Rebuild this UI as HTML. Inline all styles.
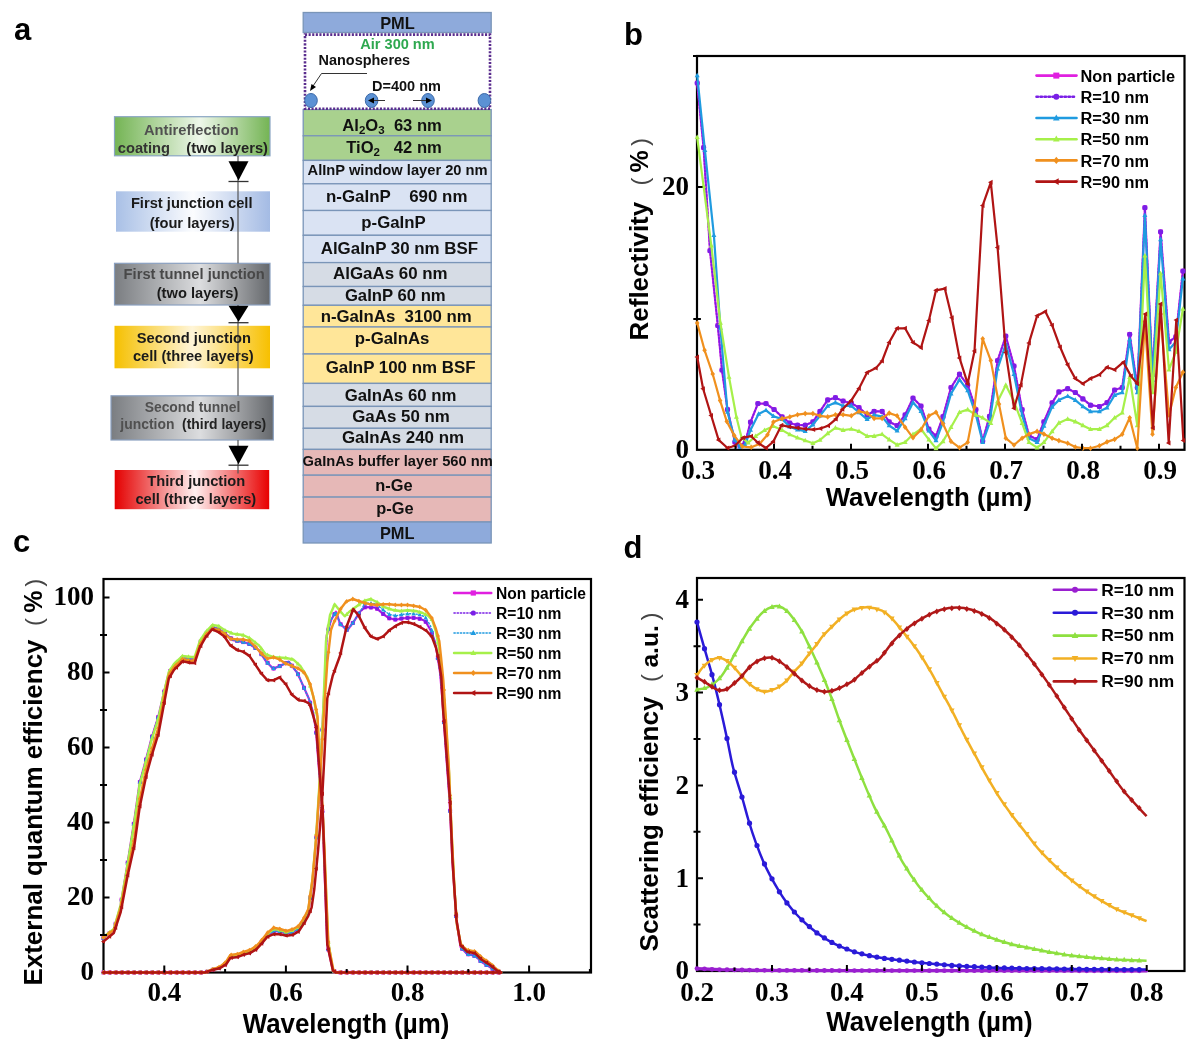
<!DOCTYPE html>
<html><head><meta charset="utf-8"><style>
html,body{margin:0;padding:0;background:#fff;}
svg{display:block;filter:blur(0.35px);}
text{white-space:pre;}
</style></head><body>
<svg width="1200" height="1047" viewBox="0 0 1200 1047">
<rect x="0" y="0" width="1200" height="1047" fill="#fff"/>
<text x="14" y="40" font-size="31" text-anchor="start" font-weight="bold" style='font-family:"Liberation Sans", sans-serif' fill="#000" >a</text>
<defs>
<linearGradient id="gGreen" x1="0" x2="1" y1="0" y2="0">
 <stop offset="0" stop-color="#74b454"/><stop offset="0.55" stop-color="#eef7ea"/><stop offset="1" stop-color="#74b454"/></linearGradient>
<linearGradient id="gBlue" x1="0" x2="1" y1="0" y2="0">
 <stop offset="0" stop-color="#a9c0e6"/><stop offset="0.5" stop-color="#fbfcfe"/><stop offset="1" stop-color="#a4bbe4"/></linearGradient>
<linearGradient id="gGray" x1="0" x2="1" y1="0" y2="0">
 <stop offset="0" stop-color="#7a7d81"/><stop offset="0.55" stop-color="#dcdddf"/><stop offset="1" stop-color="#65686c"/></linearGradient>
<linearGradient id="gYel" x1="0" x2="1" y1="0" y2="0">
 <stop offset="0" stop-color="#f5c000"/><stop offset="0.5" stop-color="#fff5d8"/><stop offset="1" stop-color="#f7c000"/></linearGradient>
<linearGradient id="gRed" x1="0" x2="1" y1="0" y2="0">
 <stop offset="0" stop-color="#e40000"/><stop offset="0.52" stop-color="#fff0f0"/><stop offset="1" stop-color="#e80000"/></linearGradient>
</defs>
<rect x="114.5" y="116.7" width="155.5" height="39.10000000000001" fill="url(#gGreen)" stroke="#8aa6c4" stroke-width="1.2"/>
<rect x="116" y="191.3" width="154" height="40.39999999999998" fill="url(#gBlue)"/>
<rect x="114.5" y="263.3" width="155.5" height="41.69999999999999" fill="url(#gGray)" stroke="#8aa0c0" stroke-width="1.2"/>
<rect x="114.5" y="325.8" width="155.5" height="42.5" fill="url(#gYel)"/>
<rect x="111" y="395.8" width="162.3" height="44.19999999999999" fill="url(#gGray)" stroke="#8aa0c0" stroke-width="1.2"/>
<rect x="114.7" y="470" width="154.5" height="39.19999999999999" fill="url(#gRed)"/>
<line x1="238" y1="156" x2="238" y2="263.3" stroke="#555" stroke-width="1.2"/>
<line x1="238" y1="305" x2="238" y2="395.8" stroke="#555" stroke-width="1.2"/>
<line x1="238" y1="440" x2="238" y2="473.6" stroke="#555" stroke-width="1.2"/>
<text x="191.3" y="135" font-size="14.7" text-anchor="middle" font-weight="bold" style='font-family:"Liberation Sans", sans-serif' fill="#505050" >Antireflection</text>
<text x="192.9" y="152.5" font-size="14.7" text-anchor="middle" font-weight="bold" style='font-family:"Liberation Sans", sans-serif' fill="#222" ><tspan fill="#333">coating    </tspan>(two layers)</text>
<text x="191.7" y="208.3" font-size="14.7" text-anchor="middle" font-weight="bold" style='font-family:"Liberation Sans", sans-serif' fill="#1a1a1a" >First junction cell</text>
<text x="192.1" y="227.5" font-size="14.7" text-anchor="middle" font-weight="bold" style='font-family:"Liberation Sans", sans-serif' fill="#1a1a1a" >(four layers)</text>
<text x="194.2" y="278.7" font-size="14.7" text-anchor="middle" font-weight="bold" style='font-family:"Liberation Sans", sans-serif' fill="#484848" >First tunnel junction</text>
<text x="197.5" y="297.5" font-size="14.7" text-anchor="middle" font-weight="bold" style='font-family:"Liberation Sans", sans-serif' fill="#1a1a1a" >(two layers)</text>
<text x="193.8" y="343.3" font-size="14.7" text-anchor="middle" font-weight="bold" style='font-family:"Liberation Sans", sans-serif' fill="#1a1a1a" >Second junction</text>
<text x="193.3" y="360.8" font-size="14.7" text-anchor="middle" font-weight="bold" style='font-family:"Liberation Sans", sans-serif' fill="#1a1a1a" >cell (three layers)</text>
<text x="192.5" y="411.7" font-size="13.9" text-anchor="middle" font-weight="bold" style='font-family:"Liberation Sans", sans-serif' fill="#505050" >Second tunnel</text>
<text x="193.3" y="429.2" font-size="13.9" text-anchor="middle" font-weight="bold" style='font-family:"Liberation Sans", sans-serif' fill="#222" ><tspan fill="#505050">junction  </tspan>(third layers)</text>
<text x="196.3" y="485.8" font-size="14.7" text-anchor="middle" font-weight="bold" style='font-family:"Liberation Sans", sans-serif' fill="#1a1a1a" >Third junction</text>
<text x="195.8" y="504.2" font-size="14.7" text-anchor="middle" font-weight="bold" style='font-family:"Liberation Sans", sans-serif' fill="#1a1a1a" >cell (three layers)</text>
<polygon points="228.5,161.3 248.5,161.3 238.5,180.5" fill="#000"/>
<line x1="228.5" y1="181.5" x2="248.5" y2="181.5" stroke="#333" stroke-width="1.3"/>
<polygon points="228.5,305.8 248.5,305.8 238.5,321.7" fill="#000"/>
<line x1="228.5" y1="322.7" x2="248.5" y2="322.7" stroke="#333" stroke-width="1.3"/>
<polygon points="228.5,445.8 248.5,445.8 238.5,464.2" fill="#000"/>
<line x1="228.5" y1="465.2" x2="248.5" y2="465.2" stroke="#333" stroke-width="1.3"/>
<rect x="303.2" y="12.5" width="188.0" height="20.0" fill="#8eaadb" stroke="#7a95b8" stroke-width="1.3"/>
<rect x="303.2" y="109.5" width="188.0" height="26.30000000000001" fill="#a9d18e" stroke="#7a95b8" stroke-width="1.3"/>
<rect x="303.2" y="135.8" width="188.0" height="24.599999999999994" fill="#a9d18e" stroke="#7a95b8" stroke-width="1.3"/>
<rect x="303.2" y="160.4" width="188.0" height="23.400000000000006" fill="#dae3f3" stroke="#7a95b8" stroke-width="1.3"/>
<rect x="303.2" y="183.8" width="188.0" height="26.69999999999999" fill="#dae3f3" stroke="#7a95b8" stroke-width="1.3"/>
<rect x="303.2" y="210.5" width="188.0" height="24.80000000000001" fill="#dae3f3" stroke="#7a95b8" stroke-width="1.3"/>
<rect x="303.2" y="235.3" width="188.0" height="27.30000000000001" fill="#dae3f3" stroke="#7a95b8" stroke-width="1.3"/>
<rect x="303.2" y="262.6" width="188.0" height="23.899999999999977" fill="#d6dce5" stroke="#7a95b8" stroke-width="1.3"/>
<rect x="303.2" y="286.5" width="188.0" height="18.80000000000001" fill="#d6dce5" stroke="#7a95b8" stroke-width="1.3"/>
<rect x="303.2" y="305.3" width="188.0" height="21.69999999999999" fill="#ffe699" stroke="#7a95b8" stroke-width="1.3"/>
<rect x="303.2" y="327" width="188.0" height="27" fill="#ffe699" stroke="#7a95b8" stroke-width="1.3"/>
<rect x="303.2" y="354" width="188.0" height="29.399999999999977" fill="#ffe699" stroke="#7a95b8" stroke-width="1.3"/>
<rect x="303.2" y="383.4" width="188.0" height="23.0" fill="#d6dce5" stroke="#7a95b8" stroke-width="1.3"/>
<rect x="303.2" y="406.4" width="188.0" height="21.900000000000034" fill="#d6dce5" stroke="#7a95b8" stroke-width="1.3"/>
<rect x="303.2" y="428.3" width="188.0" height="21.099999999999966" fill="#d6dce5" stroke="#7a95b8" stroke-width="1.3"/>
<rect x="303.2" y="449.4" width="188.0" height="25.80000000000001" fill="#e6b8b7" stroke="#7a95b8" stroke-width="1.3"/>
<rect x="303.2" y="475.2" width="188.0" height="21.900000000000034" fill="#e6b8b7" stroke="#7a95b8" stroke-width="1.3"/>
<rect x="303.2" y="497.1" width="188.0" height="24.899999999999977" fill="#e6b8b7" stroke="#7a95b8" stroke-width="1.3"/>
<rect x="303.2" y="522" width="188.0" height="21" fill="#8eaadb" stroke="#7a95b8" stroke-width="1.3"/>
<text x="397.5" y="29" font-size="16.4" text-anchor="middle" font-weight="bold" style='font-family:"Liberation Sans", sans-serif' fill="#111" >PML</text>
<text x="397.6" y="175.3" font-size="14.7" text-anchor="middle" font-weight="bold" style='font-family:"Liberation Sans", sans-serif' fill="#111" >AlInP window layer 20 nm</text>
<text x="396.7" y="202.2" font-size="16.9" text-anchor="middle" font-weight="bold" style='font-family:"Liberation Sans", sans-serif' fill="#111" >n-GaInP    690 nm</text>
<text x="393.5" y="228.2" font-size="16.8" text-anchor="middle" font-weight="bold" style='font-family:"Liberation Sans", sans-serif' fill="#111" >p-GaInP</text>
<text x="399.4" y="253.6" font-size="16.9" text-anchor="middle" font-weight="bold" style='font-family:"Liberation Sans", sans-serif' fill="#111" >AlGaInP 30 nm BSF</text>
<text x="390.3" y="279" font-size="16.9" text-anchor="middle" font-weight="bold" style='font-family:"Liberation Sans", sans-serif' fill="#111" >AlGaAs 60 nm</text>
<text x="395.3" y="300.7" font-size="16.7" text-anchor="middle" font-weight="bold" style='font-family:"Liberation Sans", sans-serif' fill="#111" >GaInP 60 nm</text>
<text x="396.2" y="321.7" font-size="16.8" text-anchor="middle" font-weight="bold" style='font-family:"Liberation Sans", sans-serif' fill="#111" >n-GaInAs  3100 nm</text>
<text x="392.1" y="344.4" font-size="16.8" text-anchor="middle" font-weight="bold" style='font-family:"Liberation Sans", sans-serif' fill="#111" >p-GaInAs</text>
<text x="400.6" y="373" font-size="16.9" text-anchor="middle" font-weight="bold" style='font-family:"Liberation Sans", sans-serif' fill="#111" >GaInP 100 nm BSF</text>
<text x="400.6" y="400.6" font-size="16.8" text-anchor="middle" font-weight="bold" style='font-family:"Liberation Sans", sans-serif' fill="#111" >GaInAs 60 nm</text>
<text x="401" y="421.7" font-size="16.9" text-anchor="middle" font-weight="bold" style='font-family:"Liberation Sans", sans-serif' fill="#111" >GaAs 50 nm</text>
<text x="403" y="442.7" font-size="16.9" text-anchor="middle" font-weight="bold" style='font-family:"Liberation Sans", sans-serif' fill="#111" >GaInAs 240 nm</text>
<text x="397.7" y="465.6" font-size="14.7" text-anchor="middle" font-weight="bold" style='font-family:"Liberation Sans", sans-serif' fill="#111" >GaInAs buffer layer 560 nm</text>
<text x="393.9" y="490.5" font-size="16.4" text-anchor="middle" font-weight="bold" style='font-family:"Liberation Sans", sans-serif' fill="#111" >n-Ge</text>
<text x="394.9" y="514.3" font-size="16.4" text-anchor="middle" font-weight="bold" style='font-family:"Liberation Sans", sans-serif' fill="#111" >p-Ge</text>
<text x="397.2" y="539.2" font-size="16.4" text-anchor="middle" font-weight="bold" style='font-family:"Liberation Sans", sans-serif' fill="#111" >PML</text>
<text x="392.1" y="130.7" font-size="16.6" text-anchor="middle" font-weight="bold" font-family='"Liberation Sans", sans-serif' fill="#111">Al<tspan font-size="11.5" dy="3.5">2</tspan><tspan dy="-3.5">O</tspan><tspan font-size="11.5" dy="3.5">3</tspan><tspan dy="-3.5">  63 nm</tspan></text>
<text x="394" y="152.5" font-size="16.6" text-anchor="middle" font-weight="bold" font-family='"Liberation Sans", sans-serif' fill="#111">TiO<tspan font-size="11.5" dy="3.5">2</tspan><tspan dy="-3.5">   42 nm</tspan></text>
<rect x="305" y="34.6" width="185" height="74.2" fill="#fff" stroke="#5a2d8e" stroke-width="2.6" stroke-dasharray="2.1,1.5"/>
<text x="397.5" y="49.4" font-size="14.55" text-anchor="middle" font-weight="bold" style='font-family:"Liberation Sans", sans-serif' fill="#2ea84f" >Air 300 nm</text>
<text x="318.6" y="65" font-size="14.45" text-anchor="start" font-weight="bold" style='font-family:"Liberation Sans", sans-serif' fill="#111" >Nanospheres</text>
<text x="372" y="90.7" font-size="14.5" text-anchor="start" font-weight="bold" style='font-family:"Liberation Sans", sans-serif' fill="#111" >D=400 nm</text>
<polyline points="367,73.5 321.5,73.5 313,86" fill="none" stroke="#333" stroke-width="1"/>
<polygon points="310,91 311.5,84 316,87" fill="#000"/>
<ellipse cx="311" cy="100.5" rx="6.3" ry="7" fill="#5b91d4" stroke="#3d6aa8" stroke-width="1"/>
<ellipse cx="371.6" cy="100.5" rx="6.3" ry="7" fill="#5b91d4" stroke="#3d6aa8" stroke-width="1"/>
<ellipse cx="428" cy="100.5" rx="6.3" ry="7" fill="#5b91d4" stroke="#3d6aa8" stroke-width="1"/>
<ellipse cx="484.4" cy="100.5" rx="6.3" ry="7" fill="#5b91d4" stroke="#3d6aa8" stroke-width="1"/>
<line x1="372" y1="100.5" x2="385" y2="100.5" stroke="#333" stroke-width="1"/>
<polygon points="368,100.5 374,97.5 374,103.5" fill="#000"/>
<line x1="413" y1="100.5" x2="427" y2="100.5" stroke="#333" stroke-width="1"/>
<polygon points="432,100.5 426,97.5 426,103.5" fill="#000"/>
<text x="624" y="45" font-size="31" text-anchor="start" font-weight="bold" style='font-family:"Liberation Sans", sans-serif' fill="#000" >b</text>
<rect x="697" y="56" width="487.5" height="393.8" fill="none" stroke="#000" stroke-width="2.2"/>
<polyline points="697.2,83.0 703.6,147.6 710.0,250.7 717.8,325.5 722.0,370.0 727.5,409.5 734.9,442.1 740.0,446.0 745.3,442.0 750.5,422.1 757.9,403.6 766.0,403.6 774.1,409.5 782.1,416.9 789.8,423.0 797.5,425.2 805.2,425.2 812.9,421.9 820.0,411.4 827.7,399.9 835.4,397.7 843.1,401.0 851.3,403.2 859.0,407.6 867.1,414.9 874.1,411.3 882.1,411.3 889.2,421.9 897.1,425.5 905.1,414.9 913.0,398.1 921.0,406.0 928.9,429.0 936.0,436.1 943.0,416.6 951.0,387.5 959.5,374.2 967.7,385.1 975.9,409.6 982.7,440.9 989.5,416.4 997.6,360.6 1005.8,336.1 1014.0,366.0 1022.1,409.6 1029.0,435.4 1037.1,439.5 1043.9,421.8 1052.1,402.8 1058.9,391.9 1067.7,388.7 1075.3,392.5 1082.9,398.9 1090.5,405.2 1099.4,406.5 1107.0,402.7 1114.6,390.0 1122.2,387.5 1129.7,334.3 1137.3,387.5 1144.9,207.7 1152.5,374.8 1160.6,231.8 1169.0,341.9 1175.8,336.8 1182.9,271.0" fill="none" stroke="#e020e0" stroke-width="2.2" stroke-linejoin="round" stroke-linecap="round" />
<g fill="#e020e0"><rect x="694.9" y="80.7" width="4.6" height="4.6"/><rect x="701.3" y="145.3" width="4.6" height="4.6"/><rect x="707.7" y="248.4" width="4.6" height="4.6"/><rect x="715.5" y="323.2" width="4.6" height="4.6"/><rect x="719.7" y="367.7" width="4.6" height="4.6"/><rect x="725.2" y="407.2" width="4.6" height="4.6"/><rect x="732.6" y="439.8" width="4.6" height="4.6"/><rect x="737.7" y="443.7" width="4.6" height="4.6"/><rect x="743.0" y="439.7" width="4.6" height="4.6"/><rect x="748.2" y="419.8" width="4.6" height="4.6"/><rect x="755.6" y="401.3" width="4.6" height="4.6"/><rect x="763.7" y="401.3" width="4.6" height="4.6"/><rect x="771.8" y="407.2" width="4.6" height="4.6"/><rect x="779.8" y="414.6" width="4.6" height="4.6"/><rect x="787.5" y="420.7" width="4.6" height="4.6"/><rect x="795.2" y="422.9" width="4.6" height="4.6"/><rect x="802.9" y="422.9" width="4.6" height="4.6"/><rect x="810.6" y="419.6" width="4.6" height="4.6"/><rect x="817.7" y="409.1" width="4.6" height="4.6"/><rect x="825.4" y="397.6" width="4.6" height="4.6"/><rect x="833.1" y="395.4" width="4.6" height="4.6"/><rect x="840.8" y="398.7" width="4.6" height="4.6"/><rect x="849.0" y="400.9" width="4.6" height="4.6"/><rect x="856.7" y="405.3" width="4.6" height="4.6"/><rect x="864.8" y="412.6" width="4.6" height="4.6"/><rect x="871.8" y="409.0" width="4.6" height="4.6"/><rect x="879.8" y="409.0" width="4.6" height="4.6"/><rect x="886.9" y="419.6" width="4.6" height="4.6"/><rect x="894.8" y="423.2" width="4.6" height="4.6"/><rect x="902.8" y="412.6" width="4.6" height="4.6"/><rect x="910.7" y="395.8" width="4.6" height="4.6"/><rect x="918.7" y="403.7" width="4.6" height="4.6"/><rect x="926.6" y="426.7" width="4.6" height="4.6"/><rect x="933.7" y="433.8" width="4.6" height="4.6"/><rect x="940.7" y="414.3" width="4.6" height="4.6"/><rect x="948.7" y="385.2" width="4.6" height="4.6"/><rect x="957.2" y="371.9" width="4.6" height="4.6"/><rect x="965.4" y="382.8" width="4.6" height="4.6"/><rect x="973.6" y="407.3" width="4.6" height="4.6"/><rect x="980.4" y="438.6" width="4.6" height="4.6"/><rect x="987.2" y="414.1" width="4.6" height="4.6"/><rect x="995.3" y="358.3" width="4.6" height="4.6"/><rect x="1003.5" y="333.8" width="4.6" height="4.6"/><rect x="1011.7" y="363.7" width="4.6" height="4.6"/><rect x="1019.8" y="407.3" width="4.6" height="4.6"/><rect x="1026.7" y="433.1" width="4.6" height="4.6"/><rect x="1034.8" y="437.2" width="4.6" height="4.6"/><rect x="1041.6" y="419.5" width="4.6" height="4.6"/><rect x="1049.8" y="400.5" width="4.6" height="4.6"/><rect x="1056.6" y="389.6" width="4.6" height="4.6"/><rect x="1065.4" y="386.4" width="4.6" height="4.6"/><rect x="1073.0" y="390.2" width="4.6" height="4.6"/><rect x="1080.6" y="396.6" width="4.6" height="4.6"/><rect x="1088.2" y="402.9" width="4.6" height="4.6"/><rect x="1097.1" y="404.2" width="4.6" height="4.6"/><rect x="1104.7" y="400.4" width="4.6" height="4.6"/><rect x="1112.3" y="387.7" width="4.6" height="4.6"/><rect x="1119.9" y="385.2" width="4.6" height="4.6"/><rect x="1127.4" y="332.0" width="4.6" height="4.6"/><rect x="1135.0" y="385.2" width="4.6" height="4.6"/><rect x="1142.6" y="205.4" width="4.6" height="4.6"/><rect x="1150.2" y="372.5" width="4.6" height="4.6"/><rect x="1158.3" y="229.5" width="4.6" height="4.6"/><rect x="1166.7" y="339.6" width="4.6" height="4.6"/><rect x="1173.5" y="334.5" width="4.6" height="4.6"/><rect x="1180.6" y="268.7" width="4.6" height="4.6"/></g>
<polyline points="697.2,83.0 703.6,147.6 710.0,250.7 717.8,325.5 722.0,370.0 727.5,409.5 734.9,442.1 740.0,446.0 745.3,442.0 750.5,422.1 757.9,403.6 766.0,403.6 774.1,409.5 782.1,416.9 789.8,423.0 797.5,425.2 805.2,425.2 812.9,421.9 820.0,411.4 827.7,399.9 835.4,397.7 843.1,401.0 851.3,403.2 859.0,407.6 867.1,414.9 874.1,411.3 882.1,411.3 889.2,421.9 897.1,425.5 905.1,414.9 913.0,398.1 921.0,406.0 928.9,429.0 936.0,436.1 943.0,416.6 951.0,387.5 959.5,374.2 967.7,385.1 975.9,409.6 982.7,440.9 989.5,416.4 997.6,360.6 1005.8,336.1 1014.0,366.0 1022.1,409.6 1029.0,435.4 1037.1,439.5 1043.9,421.8 1052.1,402.8 1058.9,391.9 1067.7,388.7 1075.3,392.5 1082.9,398.9 1090.5,405.2 1099.4,406.5 1107.0,402.7 1114.6,390.0 1122.2,387.5 1129.7,334.3 1137.3,387.5 1144.9,207.7 1152.5,374.8 1160.6,231.8 1169.0,341.9 1175.8,336.8 1182.9,271.0" fill="none" stroke="#7a1fe6" stroke-width="1.8" stroke-linejoin="round" stroke-linecap="round" stroke-dasharray="1.5,2" />
<g fill="#7a1fe6"><circle cx="697.2" cy="83.0" r="2.6"/><circle cx="703.6" cy="147.6" r="2.6"/><circle cx="710.0" cy="250.7" r="2.6"/><circle cx="717.8" cy="325.5" r="2.6"/><circle cx="722.0" cy="370.0" r="2.6"/><circle cx="727.5" cy="409.5" r="2.6"/><circle cx="734.9" cy="442.1" r="2.6"/><circle cx="740.0" cy="446.0" r="2.6"/><circle cx="745.3" cy="442.0" r="2.6"/><circle cx="750.5" cy="422.1" r="2.6"/><circle cx="757.9" cy="403.6" r="2.6"/><circle cx="766.0" cy="403.6" r="2.6"/><circle cx="774.1" cy="409.5" r="2.6"/><circle cx="782.1" cy="416.9" r="2.6"/><circle cx="789.8" cy="423.0" r="2.6"/><circle cx="797.5" cy="425.2" r="2.6"/><circle cx="805.2" cy="425.2" r="2.6"/><circle cx="812.9" cy="421.9" r="2.6"/><circle cx="820.0" cy="411.4" r="2.6"/><circle cx="827.7" cy="399.9" r="2.6"/><circle cx="835.4" cy="397.7" r="2.6"/><circle cx="843.1" cy="401.0" r="2.6"/><circle cx="851.3" cy="403.2" r="2.6"/><circle cx="859.0" cy="407.6" r="2.6"/><circle cx="867.1" cy="414.9" r="2.6"/><circle cx="874.1" cy="411.3" r="2.6"/><circle cx="882.1" cy="411.3" r="2.6"/><circle cx="889.2" cy="421.9" r="2.6"/><circle cx="897.1" cy="425.5" r="2.6"/><circle cx="905.1" cy="414.9" r="2.6"/><circle cx="913.0" cy="398.1" r="2.6"/><circle cx="921.0" cy="406.0" r="2.6"/><circle cx="928.9" cy="429.0" r="2.6"/><circle cx="936.0" cy="436.1" r="2.6"/><circle cx="943.0" cy="416.6" r="2.6"/><circle cx="951.0" cy="387.5" r="2.6"/><circle cx="959.5" cy="374.2" r="2.6"/><circle cx="967.7" cy="385.1" r="2.6"/><circle cx="975.9" cy="409.6" r="2.6"/><circle cx="982.7" cy="440.9" r="2.6"/><circle cx="989.5" cy="416.4" r="2.6"/><circle cx="997.6" cy="360.6" r="2.6"/><circle cx="1005.8" cy="336.1" r="2.6"/><circle cx="1014.0" cy="366.0" r="2.6"/><circle cx="1022.1" cy="409.6" r="2.6"/><circle cx="1029.0" cy="435.4" r="2.6"/><circle cx="1037.1" cy="439.5" r="2.6"/><circle cx="1043.9" cy="421.8" r="2.6"/><circle cx="1052.1" cy="402.8" r="2.6"/><circle cx="1058.9" cy="391.9" r="2.6"/><circle cx="1067.7" cy="388.7" r="2.6"/><circle cx="1075.3" cy="392.5" r="2.6"/><circle cx="1082.9" cy="398.9" r="2.6"/><circle cx="1090.5" cy="405.2" r="2.6"/><circle cx="1099.4" cy="406.5" r="2.6"/><circle cx="1107.0" cy="402.7" r="2.6"/><circle cx="1114.6" cy="390.0" r="2.6"/><circle cx="1122.2" cy="387.5" r="2.6"/><circle cx="1129.7" cy="334.3" r="2.6"/><circle cx="1137.3" cy="387.5" r="2.6"/><circle cx="1144.9" cy="207.7" r="2.6"/><circle cx="1152.5" cy="374.8" r="2.6"/><circle cx="1160.6" cy="231.8" r="2.6"/><circle cx="1169.0" cy="341.9" r="2.6"/><circle cx="1175.8" cy="336.8" r="2.6"/><circle cx="1182.9" cy="271.0" r="2.6"/></g>
<polyline points="697.2,75.5 704.9,150.2 713.9,235.3 720.4,328.0 727.5,412.0 734.9,440.0 740.0,447.0 745.0,445.0 750.5,430.0 758.6,414.0 766.0,410.3 773.4,416.2 782.1,419.1 789.8,426.8 797.5,429.6 805.2,431.2 812.9,424.6 820.0,415.8 827.7,405.9 835.4,402.6 843.1,405.9 851.3,405.9 859.0,412.5 867.1,419.3 874.1,414.9 882.1,416.6 889.2,425.5 897.1,430.8 905.1,418.4 913.0,402.5 921.0,411.3 928.9,430.8 936.0,440.5 943.0,422.0 951.0,393.7 959.5,379.6 967.7,390.5 975.9,415.0 982.7,442.3 989.5,423.2 997.6,368.7 1005.8,344.2 1014.0,374.2 1022.1,415.0 1029.0,438.2 1037.1,442.3 1043.9,425.9 1052.1,406.9 1058.9,400.1 1067.7,396.3 1075.3,400.1 1082.9,406.5 1090.5,411.5 1099.4,411.5 1107.0,407.7 1114.6,395.1 1122.2,392.5 1129.7,339.4 1137.3,392.5 1144.9,215.3 1152.5,379.9 1160.6,239.4 1169.0,349.5 1175.8,341.9 1182.9,278.6" fill="none" stroke="#1f9be0" stroke-width="2.2" stroke-linejoin="round" stroke-linecap="round" />
<g fill="#1f9be0"><polygon points="697.2,72.7 694.7,77.3 699.7,77.3"/><polygon points="704.9,147.4 702.4,152.0 707.4,152.0"/><polygon points="713.9,232.5 711.4,237.1 716.4,237.1"/><polygon points="720.4,325.2 717.9,329.8 722.9,329.8"/><polygon points="727.5,409.2 725.0,413.8 730.0,413.8"/><polygon points="734.9,437.2 732.4,441.8 737.4,441.8"/><polygon points="740.0,444.2 737.5,448.8 742.5,448.8"/><polygon points="745.0,442.2 742.5,446.8 747.5,446.8"/><polygon points="750.5,427.2 748.0,431.8 753.0,431.8"/><polygon points="758.6,411.2 756.1,415.8 761.1,415.8"/><polygon points="766.0,407.5 763.5,412.1 768.5,412.1"/><polygon points="773.4,413.4 770.9,418.0 775.9,418.0"/><polygon points="782.1,416.3 779.6,420.9 784.6,420.9"/><polygon points="789.8,424.0 787.3,428.6 792.3,428.6"/><polygon points="797.5,426.8 795.0,431.4 800.0,431.4"/><polygon points="805.2,428.4 802.7,433.0 807.7,433.0"/><polygon points="812.9,421.8 810.4,426.4 815.4,426.4"/><polygon points="820.0,413.0 817.5,417.6 822.5,417.6"/><polygon points="827.7,403.1 825.2,407.7 830.2,407.7"/><polygon points="835.4,399.8 832.9,404.4 837.9,404.4"/><polygon points="843.1,403.1 840.6,407.7 845.6,407.7"/><polygon points="851.3,403.1 848.8,407.7 853.8,407.7"/><polygon points="859.0,409.7 856.5,414.3 861.5,414.3"/><polygon points="867.1,416.5 864.6,421.1 869.6,421.1"/><polygon points="874.1,412.1 871.6,416.7 876.6,416.7"/><polygon points="882.1,413.8 879.6,418.4 884.6,418.4"/><polygon points="889.2,422.7 886.7,427.3 891.7,427.3"/><polygon points="897.1,428.0 894.6,432.6 899.6,432.6"/><polygon points="905.1,415.6 902.6,420.2 907.6,420.2"/><polygon points="913.0,399.7 910.5,404.3 915.5,404.3"/><polygon points="921.0,408.5 918.5,413.1 923.5,413.1"/><polygon points="928.9,428.0 926.4,432.6 931.4,432.6"/><polygon points="936.0,437.7 933.5,442.3 938.5,442.3"/><polygon points="943.0,419.2 940.5,423.8 945.5,423.8"/><polygon points="951.0,390.9 948.5,395.5 953.5,395.5"/><polygon points="959.5,376.8 957.0,381.4 962.0,381.4"/><polygon points="967.7,387.7 965.2,392.3 970.2,392.3"/><polygon points="975.9,412.2 973.4,416.8 978.4,416.8"/><polygon points="982.7,439.5 980.2,444.1 985.2,444.1"/><polygon points="989.5,420.4 987.0,425.0 992.0,425.0"/><polygon points="997.6,365.9 995.1,370.5 1000.1,370.5"/><polygon points="1005.8,341.4 1003.3,346.0 1008.3,346.0"/><polygon points="1014.0,371.4 1011.5,376.0 1016.5,376.0"/><polygon points="1022.1,412.2 1019.6,416.8 1024.6,416.8"/><polygon points="1029.0,435.4 1026.5,440.0 1031.5,440.0"/><polygon points="1037.1,439.5 1034.6,444.1 1039.6,444.1"/><polygon points="1043.9,423.1 1041.4,427.7 1046.4,427.7"/><polygon points="1052.1,404.1 1049.6,408.7 1054.6,408.7"/><polygon points="1058.9,397.3 1056.4,401.9 1061.4,401.9"/><polygon points="1067.7,393.5 1065.2,398.1 1070.2,398.1"/><polygon points="1075.3,397.3 1072.8,401.9 1077.8,401.9"/><polygon points="1082.9,403.7 1080.4,408.3 1085.4,408.3"/><polygon points="1090.5,408.7 1088.0,413.3 1093.0,413.3"/><polygon points="1099.4,408.7 1096.9,413.3 1101.9,413.3"/><polygon points="1107.0,404.9 1104.5,409.5 1109.5,409.5"/><polygon points="1114.6,392.3 1112.1,396.9 1117.1,396.9"/><polygon points="1122.2,389.7 1119.7,394.3 1124.7,394.3"/><polygon points="1129.7,336.6 1127.2,341.2 1132.2,341.2"/><polygon points="1137.3,389.7 1134.8,394.3 1139.8,394.3"/><polygon points="1144.9,212.5 1142.4,217.1 1147.4,217.1"/><polygon points="1152.5,377.1 1150.0,381.7 1155.0,381.7"/><polygon points="1160.6,236.6 1158.1,241.2 1163.1,241.2"/><polygon points="1169.0,346.7 1166.5,351.3 1171.5,351.3"/><polygon points="1175.8,339.1 1173.3,343.7 1178.3,343.7"/><polygon points="1182.9,275.8 1180.4,280.4 1185.4,280.4"/></g>
<polyline points="697.2,137.3 703.6,186.3 711.3,245.6 720.4,322.9 729.0,377.0 736.4,417.0 741.6,437.7 748.2,442.8 755.6,436.2 764.5,430.3 773.3,426.3 782.1,430.1 789.8,434.5 797.5,437.8 805.2,440.5 812.9,443.3 820.0,440.0 827.7,433.4 835.4,427.9 843.1,430.1 851.3,429.0 859.0,431.2 867.1,436.1 874.1,436.1 882.1,434.3 889.2,439.6 897.1,444.9 905.1,442.3 913.0,434.3 921.0,429.0 928.9,439.6 936.0,448.4 943.0,441.4 951.0,427.2 959.5,412.3 967.7,409.6 975.9,415.0 982.7,417.8 990.8,423.2 997.6,401.4 1005.8,385.1 1014.0,401.4 1022.1,423.2 1029.0,442.3 1037.1,447.7 1043.9,442.3 1052.1,431.4 1058.9,422.9 1067.7,419.1 1075.3,421.6 1082.9,425.4 1090.5,429.2 1099.4,429.2 1107.0,425.4 1114.6,417.8 1122.2,412.8 1129.7,377.3 1137.3,425.4 1144.9,255.8 1152.5,392.5 1160.6,273.5 1169.0,369.7 1175.8,352.0 1182.9,309.0" fill="none" stroke="#a6f04a" stroke-width="2.2" stroke-linejoin="round" stroke-linecap="round" />
<g fill="#a6f04a"><polygon points="697.2,134.5 694.7,139.1 699.7,139.1"/><polygon points="703.6,183.5 701.1,188.1 706.1,188.1"/><polygon points="711.3,242.8 708.8,247.4 713.8,247.4"/><polygon points="720.4,320.1 717.9,324.7 722.9,324.7"/><polygon points="729.0,374.2 726.5,378.8 731.5,378.8"/><polygon points="736.4,414.2 733.9,418.8 738.9,418.8"/><polygon points="741.6,434.9 739.1,439.5 744.1,439.5"/><polygon points="748.2,440.0 745.7,444.6 750.7,444.6"/><polygon points="755.6,433.4 753.1,438.0 758.1,438.0"/><polygon points="764.5,427.5 762.0,432.1 767.0,432.1"/><polygon points="773.3,423.5 770.8,428.1 775.8,428.1"/><polygon points="782.1,427.3 779.6,431.9 784.6,431.9"/><polygon points="789.8,431.7 787.3,436.3 792.3,436.3"/><polygon points="797.5,435.0 795.0,439.6 800.0,439.6"/><polygon points="805.2,437.7 802.7,442.3 807.7,442.3"/><polygon points="812.9,440.5 810.4,445.1 815.4,445.1"/><polygon points="820.0,437.2 817.5,441.8 822.5,441.8"/><polygon points="827.7,430.6 825.2,435.2 830.2,435.2"/><polygon points="835.4,425.1 832.9,429.7 837.9,429.7"/><polygon points="843.1,427.3 840.6,431.9 845.6,431.9"/><polygon points="851.3,426.2 848.8,430.8 853.8,430.8"/><polygon points="859.0,428.4 856.5,433.0 861.5,433.0"/><polygon points="867.1,433.3 864.6,437.9 869.6,437.9"/><polygon points="874.1,433.3 871.6,437.9 876.6,437.9"/><polygon points="882.1,431.5 879.6,436.1 884.6,436.1"/><polygon points="889.2,436.8 886.7,441.4 891.7,441.4"/><polygon points="897.1,442.1 894.6,446.7 899.6,446.7"/><polygon points="905.1,439.5 902.6,444.1 907.6,444.1"/><polygon points="913.0,431.5 910.5,436.1 915.5,436.1"/><polygon points="921.0,426.2 918.5,430.8 923.5,430.8"/><polygon points="928.9,436.8 926.4,441.4 931.4,441.4"/><polygon points="936.0,445.6 933.5,450.2 938.5,450.2"/><polygon points="943.0,438.6 940.5,443.2 945.5,443.2"/><polygon points="951.0,424.4 948.5,429.0 953.5,429.0"/><polygon points="959.5,409.5 957.0,414.1 962.0,414.1"/><polygon points="967.7,406.8 965.2,411.4 970.2,411.4"/><polygon points="975.9,412.2 973.4,416.8 978.4,416.8"/><polygon points="982.7,415.0 980.2,419.6 985.2,419.6"/><polygon points="990.8,420.4 988.3,425.0 993.3,425.0"/><polygon points="997.6,398.6 995.1,403.2 1000.1,403.2"/><polygon points="1005.8,382.3 1003.3,386.9 1008.3,386.9"/><polygon points="1014.0,398.6 1011.5,403.2 1016.5,403.2"/><polygon points="1022.1,420.4 1019.6,425.0 1024.6,425.0"/><polygon points="1029.0,439.5 1026.5,444.1 1031.5,444.1"/><polygon points="1037.1,444.9 1034.6,449.5 1039.6,449.5"/><polygon points="1043.9,439.5 1041.4,444.1 1046.4,444.1"/><polygon points="1052.1,428.6 1049.6,433.2 1054.6,433.2"/><polygon points="1058.9,420.1 1056.4,424.7 1061.4,424.7"/><polygon points="1067.7,416.3 1065.2,420.9 1070.2,420.9"/><polygon points="1075.3,418.8 1072.8,423.4 1077.8,423.4"/><polygon points="1082.9,422.6 1080.4,427.2 1085.4,427.2"/><polygon points="1090.5,426.4 1088.0,431.0 1093.0,431.0"/><polygon points="1099.4,426.4 1096.9,431.0 1101.9,431.0"/><polygon points="1107.0,422.6 1104.5,427.2 1109.5,427.2"/><polygon points="1114.6,415.0 1112.1,419.6 1117.1,419.6"/><polygon points="1122.2,410.0 1119.7,414.6 1124.7,414.6"/><polygon points="1129.7,374.5 1127.2,379.1 1132.2,379.1"/><polygon points="1137.3,422.6 1134.8,427.2 1139.8,427.2"/><polygon points="1144.9,253.0 1142.4,257.6 1147.4,257.6"/><polygon points="1152.5,389.7 1150.0,394.3 1155.0,394.3"/><polygon points="1160.6,270.7 1158.1,275.3 1163.1,275.3"/><polygon points="1169.0,366.9 1166.5,371.5 1171.5,371.5"/><polygon points="1175.8,349.2 1173.3,353.8 1178.3,353.8"/><polygon points="1182.9,306.2 1180.4,310.8 1185.4,310.8"/></g>
<polyline points="697.2,323.0 704.6,350.3 712.7,374.0 720.1,400.6 726.8,421.4 734.2,435.4 742.3,446.5 751.2,447.3 759.5,444.0 767.5,434.7 773.4,422.1 782.1,418.6 789.8,416.9 797.5,414.7 805.2,413.6 812.9,413.6 820.0,415.8 827.7,416.9 835.4,414.7 843.1,414.7 851.3,415.8 859.0,411.4 867.1,413.1 874.1,418.4 882.1,418.4 889.2,413.1 897.1,415.8 905.1,427.2 913.0,437.8 921.0,429.9 928.9,415.8 936.0,412.2 943.0,423.7 951.0,441.4 959.5,447.7 967.7,442.3 974.5,406.9 982.7,338.8 990.8,360.6 999.0,404.1 1005.8,438.2 1014.0,445.0 1022.1,438.2 1029.0,434.1 1037.1,431.4 1043.9,434.1 1052.1,438.2 1058.9,440.6 1067.7,443.2 1075.3,447.0 1082.9,448.2 1090.5,448.2 1099.4,445.7 1107.0,441.9 1114.6,439.4 1122.2,434.3 1129.7,417.8 1137.3,448.2 1144.9,321.6 1152.5,434.3 1160.6,314.1 1169.0,415.3 1175.8,387.5 1182.9,372.3" fill="none" stroke="#f0901e" stroke-width="2.2" stroke-linejoin="round" stroke-linecap="round" />
<g fill="#f0901e"><polygon points="697.2,320.2 694.9,323.0 697.2,325.8 699.5,323.0"/><polygon points="704.6,347.5 702.3,350.3 704.6,353.1 706.9,350.3"/><polygon points="712.7,371.2 710.4,374.0 712.7,376.8 715.0,374.0"/><polygon points="720.1,397.8 717.8,400.6 720.1,403.4 722.4,400.6"/><polygon points="726.8,418.6 724.5,421.4 726.8,424.2 729.1,421.4"/><polygon points="734.2,432.6 731.9,435.4 734.2,438.2 736.5,435.4"/><polygon points="742.3,443.7 740.0,446.5 742.3,449.3 744.6,446.5"/><polygon points="751.2,444.5 748.9,447.3 751.2,450.1 753.5,447.3"/><polygon points="759.5,441.2 757.2,444.0 759.5,446.8 761.8,444.0"/><polygon points="767.5,431.9 765.2,434.7 767.5,437.5 769.8,434.7"/><polygon points="773.4,419.3 771.1,422.1 773.4,424.9 775.7,422.1"/><polygon points="782.1,415.8 779.8,418.6 782.1,421.4 784.4,418.6"/><polygon points="789.8,414.1 787.5,416.9 789.8,419.7 792.1,416.9"/><polygon points="797.5,411.9 795.2,414.7 797.5,417.5 799.8,414.7"/><polygon points="805.2,410.8 802.9,413.6 805.2,416.4 807.5,413.6"/><polygon points="812.9,410.8 810.6,413.6 812.9,416.4 815.2,413.6"/><polygon points="820.0,413.0 817.7,415.8 820.0,418.6 822.3,415.8"/><polygon points="827.7,414.1 825.4,416.9 827.7,419.7 830.0,416.9"/><polygon points="835.4,411.9 833.1,414.7 835.4,417.5 837.7,414.7"/><polygon points="843.1,411.9 840.8,414.7 843.1,417.5 845.4,414.7"/><polygon points="851.3,413.0 849.0,415.8 851.3,418.6 853.6,415.8"/><polygon points="859.0,408.6 856.7,411.4 859.0,414.2 861.3,411.4"/><polygon points="867.1,410.3 864.8,413.1 867.1,415.9 869.4,413.1"/><polygon points="874.1,415.6 871.8,418.4 874.1,421.2 876.4,418.4"/><polygon points="882.1,415.6 879.8,418.4 882.1,421.2 884.4,418.4"/><polygon points="889.2,410.3 886.9,413.1 889.2,415.9 891.5,413.1"/><polygon points="897.1,413.0 894.8,415.8 897.1,418.6 899.4,415.8"/><polygon points="905.1,424.4 902.8,427.2 905.1,430.0 907.4,427.2"/><polygon points="913.0,435.0 910.7,437.8 913.0,440.6 915.3,437.8"/><polygon points="921.0,427.1 918.7,429.9 921.0,432.7 923.3,429.9"/><polygon points="928.9,413.0 926.6,415.8 928.9,418.6 931.2,415.8"/><polygon points="936.0,409.4 933.7,412.2 936.0,415.0 938.3,412.2"/><polygon points="943.0,420.9 940.7,423.7 943.0,426.5 945.3,423.7"/><polygon points="951.0,438.6 948.7,441.4 951.0,444.2 953.3,441.4"/><polygon points="959.5,444.9 957.2,447.7 959.5,450.5 961.8,447.7"/><polygon points="967.7,439.5 965.4,442.3 967.7,445.1 970.0,442.3"/><polygon points="974.5,404.1 972.2,406.9 974.5,409.7 976.8,406.9"/><polygon points="982.7,336.0 980.4,338.8 982.7,341.6 985.0,338.8"/><polygon points="990.8,357.8 988.5,360.6 990.8,363.4 993.1,360.6"/><polygon points="999.0,401.3 996.7,404.1 999.0,406.9 1001.3,404.1"/><polygon points="1005.8,435.4 1003.5,438.2 1005.8,441.0 1008.1,438.2"/><polygon points="1014.0,442.2 1011.7,445.0 1014.0,447.8 1016.3,445.0"/><polygon points="1022.1,435.4 1019.8,438.2 1022.1,441.0 1024.4,438.2"/><polygon points="1029.0,431.3 1026.7,434.1 1029.0,436.9 1031.3,434.1"/><polygon points="1037.1,428.6 1034.8,431.4 1037.1,434.2 1039.4,431.4"/><polygon points="1043.9,431.3 1041.6,434.1 1043.9,436.9 1046.2,434.1"/><polygon points="1052.1,435.4 1049.8,438.2 1052.1,441.0 1054.4,438.2"/><polygon points="1058.9,437.8 1056.6,440.6 1058.9,443.4 1061.2,440.6"/><polygon points="1067.7,440.4 1065.4,443.2 1067.7,446.0 1070.0,443.2"/><polygon points="1075.3,444.2 1073.0,447.0 1075.3,449.8 1077.6,447.0"/><polygon points="1082.9,445.4 1080.6,448.2 1082.9,451.0 1085.2,448.2"/><polygon points="1090.5,445.4 1088.2,448.2 1090.5,451.0 1092.8,448.2"/><polygon points="1099.4,442.9 1097.1,445.7 1099.4,448.5 1101.7,445.7"/><polygon points="1107.0,439.1 1104.7,441.9 1107.0,444.7 1109.3,441.9"/><polygon points="1114.6,436.6 1112.3,439.4 1114.6,442.2 1116.9,439.4"/><polygon points="1122.2,431.5 1119.9,434.3 1122.2,437.1 1124.5,434.3"/><polygon points="1129.7,415.0 1127.4,417.8 1129.7,420.6 1132.0,417.8"/><polygon points="1137.3,445.4 1135.0,448.2 1137.3,451.0 1139.6,448.2"/><polygon points="1144.9,318.8 1142.6,321.6 1144.9,324.4 1147.2,321.6"/><polygon points="1152.5,431.5 1150.2,434.3 1152.5,437.1 1154.8,434.3"/><polygon points="1160.6,311.3 1158.3,314.1 1160.6,316.9 1162.9,314.1"/><polygon points="1169.0,412.5 1166.7,415.3 1169.0,418.1 1171.3,415.3"/><polygon points="1175.8,384.7 1173.5,387.5 1175.8,390.3 1178.1,387.5"/><polygon points="1182.9,369.5 1180.6,372.3 1182.9,375.1 1185.2,372.3"/></g>
<polyline points="697.2,357.0 703.1,388.8 711.2,415.5 718.6,439.9 727.5,448.0 734.9,445.8 743.1,437.7 751.2,436.2 757.9,442.8 766.0,448.0 773.3,441.6 781.5,425.2 789.2,426.8 797.5,427.9 805.2,429.0 813.4,429.6 820.5,428.5 828.2,425.7 835.9,419.1 842.5,409.2 851.3,400.4 859.0,388.4 867.1,372.5 875.9,368.1 882.1,361.0 889.2,342.4 897.1,328.3 905.1,328.3 913.0,342.4 921.0,347.7 928.9,320.4 936.0,290.3 944.8,288.6 951.9,317.7 959.5,357.9 967.7,383.7 974.5,351.0 982.7,205.4 990.8,182.3 997.6,247.6 1005.8,352.4 1014.0,408.2 1020.8,385.1 1029.0,342.9 1037.1,315.7 1045.3,311.6 1052.1,325.2 1060.1,347.0 1067.7,364.7 1075.3,378.6 1082.9,383.7 1090.5,378.6 1099.4,374.8 1107.0,367.2 1114.6,369.7 1123.4,362.2 1131.0,376.1 1137.3,383.7 1145.4,314.0 1153.0,428.0 1160.6,304.0 1168.7,443.0 1176.3,320.0 1183.4,440.6" fill="none" stroke="#b01414" stroke-width="2.2" stroke-linejoin="round" stroke-linecap="round" />
<g fill="#b01414"><polygon points="694.4,357.0 699.0,354.5 699.0,359.5"/><polygon points="700.3,388.8 704.9,386.3 704.9,391.3"/><polygon points="708.4,415.5 713.0,413.0 713.0,418.0"/><polygon points="715.8,439.9 720.4,437.4 720.4,442.4"/><polygon points="724.7,448.0 729.3,445.5 729.3,450.5"/><polygon points="732.1,445.8 736.7,443.3 736.7,448.3"/><polygon points="740.3,437.7 744.9,435.2 744.9,440.2"/><polygon points="748.4,436.2 753.0,433.7 753.0,438.7"/><polygon points="755.1,442.8 759.7,440.3 759.7,445.3"/><polygon points="763.2,448.0 767.8,445.5 767.8,450.5"/><polygon points="770.5,441.6 775.1,439.1 775.1,444.1"/><polygon points="778.7,425.2 783.3,422.7 783.3,427.7"/><polygon points="786.4,426.8 791.0,424.3 791.0,429.3"/><polygon points="794.7,427.9 799.3,425.4 799.3,430.4"/><polygon points="802.4,429.0 807.0,426.5 807.0,431.5"/><polygon points="810.6,429.6 815.2,427.1 815.2,432.1"/><polygon points="817.7,428.5 822.3,426.0 822.3,431.0"/><polygon points="825.4,425.7 830.0,423.2 830.0,428.2"/><polygon points="833.1,419.1 837.7,416.6 837.7,421.6"/><polygon points="839.7,409.2 844.3,406.7 844.3,411.7"/><polygon points="848.5,400.4 853.1,397.9 853.1,402.9"/><polygon points="856.2,388.4 860.8,385.9 860.8,390.9"/><polygon points="864.3,372.5 868.9,370.0 868.9,375.0"/><polygon points="873.1,368.1 877.7,365.6 877.7,370.6"/><polygon points="879.3,361.0 883.9,358.5 883.9,363.5"/><polygon points="886.4,342.4 891.0,339.9 891.0,344.9"/><polygon points="894.3,328.3 898.9,325.8 898.9,330.8"/><polygon points="902.3,328.3 906.9,325.8 906.9,330.8"/><polygon points="910.2,342.4 914.8,339.9 914.8,344.9"/><polygon points="918.2,347.7 922.8,345.2 922.8,350.2"/><polygon points="926.1,320.4 930.7,317.9 930.7,322.9"/><polygon points="933.2,290.3 937.8,287.8 937.8,292.8"/><polygon points="942.0,288.6 946.6,286.1 946.6,291.1"/><polygon points="949.1,317.7 953.7,315.2 953.7,320.2"/><polygon points="956.7,357.9 961.3,355.4 961.3,360.4"/><polygon points="964.9,383.7 969.5,381.2 969.5,386.2"/><polygon points="971.7,351.0 976.3,348.5 976.3,353.5"/><polygon points="979.9,205.4 984.5,202.9 984.5,207.9"/><polygon points="988.0,182.3 992.6,179.8 992.6,184.8"/><polygon points="994.8,247.6 999.4,245.1 999.4,250.1"/><polygon points="1003.0,352.4 1007.6,349.9 1007.6,354.9"/><polygon points="1011.2,408.2 1015.8,405.7 1015.8,410.7"/><polygon points="1018.0,385.1 1022.6,382.6 1022.6,387.6"/><polygon points="1026.2,342.9 1030.8,340.4 1030.8,345.4"/><polygon points="1034.3,315.7 1038.9,313.2 1038.9,318.2"/><polygon points="1042.5,311.6 1047.1,309.1 1047.1,314.1"/><polygon points="1049.3,325.2 1053.9,322.7 1053.9,327.7"/><polygon points="1057.3,347.0 1061.9,344.5 1061.9,349.5"/><polygon points="1064.9,364.7 1069.5,362.2 1069.5,367.2"/><polygon points="1072.5,378.6 1077.1,376.1 1077.1,381.1"/><polygon points="1080.1,383.7 1084.7,381.2 1084.7,386.2"/><polygon points="1087.7,378.6 1092.3,376.1 1092.3,381.1"/><polygon points="1096.6,374.8 1101.2,372.3 1101.2,377.3"/><polygon points="1104.2,367.2 1108.8,364.7 1108.8,369.7"/><polygon points="1111.8,369.7 1116.4,367.2 1116.4,372.2"/><polygon points="1120.6,362.2 1125.2,359.7 1125.2,364.7"/><polygon points="1128.2,376.1 1132.8,373.6 1132.8,378.6"/><polygon points="1134.5,383.7 1139.1,381.2 1139.1,386.2"/><polygon points="1142.6,314.0 1147.2,311.5 1147.2,316.5"/><polygon points="1150.2,428.0 1154.8,425.5 1154.8,430.5"/><polygon points="1157.8,304.0 1162.4,301.5 1162.4,306.5"/><polygon points="1165.9,443.0 1170.5,440.5 1170.5,445.5"/><polygon points="1173.5,320.0 1178.1,317.5 1178.1,322.5"/><polygon points="1180.6,440.6 1185.2,438.1 1185.2,443.1"/></g>
<path d="M693.3,319 h7.6 M697,187 h5.5 M697,56 h-4 M697.0,449.8 v-6 M735.5,449.8 v-4 M774.0,449.8 v-6 M812.5,449.8 v-4 M851.0,449.8 v-6 M889.5,449.8 v-4 M928.0,449.8 v-6 M966.5,449.8 v-4 M1005.0,449.8 v-6 M1043.5,449.8 v-4 M1082.0,449.8 v-6 M1120.5,449.8 v-4 M1159.0,449.8 v-6" stroke="#000" stroke-width="2" fill="none"/>
<text x="698" y="478.5" font-size="27" text-anchor="middle" font-weight="bold" style='font-family:"Liberation Serif", serif' fill="#000" >0.3</text>
<text x="775" y="478.5" font-size="27" text-anchor="middle" font-weight="bold" style='font-family:"Liberation Serif", serif' fill="#000" >0.4</text>
<text x="852" y="478.5" font-size="27" text-anchor="middle" font-weight="bold" style='font-family:"Liberation Serif", serif' fill="#000" >0.5</text>
<text x="929" y="478.5" font-size="27" text-anchor="middle" font-weight="bold" style='font-family:"Liberation Serif", serif' fill="#000" >0.6</text>
<text x="1006" y="478.5" font-size="27" text-anchor="middle" font-weight="bold" style='font-family:"Liberation Serif", serif' fill="#000" >0.7</text>
<text x="1083" y="478.5" font-size="27" text-anchor="middle" font-weight="bold" style='font-family:"Liberation Serif", serif' fill="#000" >0.8</text>
<text x="1160" y="478.5" font-size="27" text-anchor="middle" font-weight="bold" style='font-family:"Liberation Serif", serif' fill="#000" >0.9</text>
<text x="689" y="458" font-size="27" text-anchor="end" font-weight="bold" style='font-family:"Liberation Serif", serif' fill="#000" >0</text>
<text x="689" y="194.8" font-size="27" text-anchor="end" font-weight="bold" style='font-family:"Liberation Serif", serif' fill="#000" >20</text>
<text x="825.7" y="506" font-size="26.4" text-anchor="start" font-weight="bold" style='font-family:"Liberation Sans", sans-serif' fill="#000" textLength="206.3" lengthAdjust="spacingAndGlyphs">Wavelength (µm)</text>
<g transform="translate(647.5,340.5) rotate(-90)"><text x="0" y="0" font-size="26" font-weight="bold" style='font-family:"Liberation Sans", sans-serif'>Reflectivity</text><text x="155" y="0" font-size="24" font-weight="normal" style='font-family:"Liberation Sans", sans-serif' fill="#444">(</text><text x="168" y="0" font-size="25" font-weight="bold" style='font-family:"Liberation Sans", sans-serif'>%</text><text x="194.5" y="0" font-size="24" font-weight="normal" style='font-family:"Liberation Sans", sans-serif' fill="#444">)</text></g>
<polyline points="1036.5,75.6 1076.5,75.6" fill="none" stroke="#e020e0" stroke-width="2.6" stroke-linejoin="round" stroke-linecap="round" />
<g fill="#e020e0"><rect x="1053.3" y="72.6" width="6" height="6"/></g>
<text x="1080.5" y="81.8" font-size="16.8" text-anchor="start" font-weight="bold" style='font-family:"Liberation Sans", sans-serif' fill="#000" textLength="94.5" lengthAdjust="spacingAndGlyphs">Non particle</text>
<polyline points="1036.5,96.8 1076.5,96.8" fill="none" stroke="#7a1fe6" stroke-width="2.6" stroke-linejoin="round" stroke-linecap="round" stroke-dasharray="1.5,2.5" />
<g fill="#7a1fe6"><circle cx="1056.3" cy="96.8" r="3"/></g>
<text x="1080.5" y="103.0" font-size="16.8" text-anchor="start" font-weight="bold" style='font-family:"Liberation Sans", sans-serif' fill="#000" textLength="68.5" lengthAdjust="spacingAndGlyphs">R=10 nm</text>
<polyline points="1036.5,118.0 1076.5,118.0" fill="none" stroke="#1f9be0" stroke-width="2.6" stroke-linejoin="round" stroke-linecap="round" />
<g fill="#1f9be0"><polygon points="1056.3,114.4 1053.0,120.4 1059.6,120.4"/></g>
<text x="1080.5" y="124.2" font-size="16.8" text-anchor="start" font-weight="bold" style='font-family:"Liberation Sans", sans-serif' fill="#000" textLength="68.5" lengthAdjust="spacingAndGlyphs">R=30 nm</text>
<polyline points="1036.5,139.2 1076.5,139.2" fill="none" stroke="#a6f04a" stroke-width="2.6" stroke-linejoin="round" stroke-linecap="round" />
<g fill="#a6f04a"><polygon points="1056.3,135.6 1053.0,141.6 1059.6,141.6"/></g>
<text x="1080.5" y="145.39999999999998" font-size="16.8" text-anchor="start" font-weight="bold" style='font-family:"Liberation Sans", sans-serif' fill="#000" textLength="68.5" lengthAdjust="spacingAndGlyphs">R=50 nm</text>
<polyline points="1036.5,160.4 1076.5,160.4" fill="none" stroke="#f0901e" stroke-width="2.6" stroke-linejoin="round" stroke-linecap="round" />
<g fill="#f0901e"><polygon points="1056.3,156.8 1053.3,160.4 1056.3,164.0 1059.3,160.4"/></g>
<text x="1080.5" y="166.59999999999997" font-size="16.8" text-anchor="start" font-weight="bold" style='font-family:"Liberation Sans", sans-serif' fill="#000" textLength="68.5" lengthAdjust="spacingAndGlyphs">R=70 nm</text>
<polyline points="1036.5,181.6 1076.5,181.6" fill="none" stroke="#b01414" stroke-width="2.6" stroke-linejoin="round" stroke-linecap="round" />
<g fill="#b01414"><polygon points="1052.7,181.6 1058.7,178.3 1058.7,184.9"/></g>
<text x="1080.5" y="187.79999999999998" font-size="16.8" text-anchor="start" font-weight="bold" style='font-family:"Liberation Sans", sans-serif' fill="#000" textLength="68.5" lengthAdjust="spacingAndGlyphs">R=90 nm</text>
<text x="13" y="551.5" font-size="31" text-anchor="start" font-weight="bold" style='font-family:"Liberation Sans", sans-serif' fill="#000" >c</text>
<rect x="103.5" y="579" width="487.5" height="393.5" fill="none" stroke="#000" stroke-width="2.2"/>
<polyline points="103.4,938.0 113.8,930.0 120.6,906.0 127.5,864.0 134.4,820.0 139.6,783.0 146.4,758.0 151.6,738.0 158.5,716.0 163.6,694.0 168.8,673.0 174.0,666.0 182.6,658.0 191.2,659.0 194.6,659.0 199.8,643.0 205.7,634.0 212.2,627.0 218.6,629.0 224.4,633.0 233.0,640.0 243.0,642.0 249.4,644.0 258.7,650.0 265.9,661.0 273.1,668.7 280.2,665.9 288.8,661.6 297.4,673.0 303.2,685.9 308.9,698.8 313.0,712.0 316.0,730.0 319.5,776.0 322.5,814.0 325.2,888.0 327.2,944.0 332.9,970.6 336.0,972.5 501.0,972.5" fill="none" stroke="#e020e0" stroke-width="2.3" stroke-linejoin="round" stroke-linecap="round" />
<g fill="#e020e0"><rect x="101.4" y="936.0" width="4.0" height="4.0"/><rect x="107.5" y="931.3" width="4.0" height="4.0"/><rect x="113.6" y="921.8" width="4.0" height="4.0"/><rect x="119.6" y="897.7" width="4.0" height="4.0"/><rect x="125.7" y="860.6" width="4.0" height="4.0"/><rect x="131.8" y="821.8" width="4.0" height="4.0"/><rect x="137.9" y="780.0" width="4.0" height="4.0"/><rect x="144.0" y="757.6" width="4.0" height="4.0"/><rect x="150.0" y="734.6" width="4.0" height="4.0"/><rect x="156.1" y="715.2" width="4.0" height="4.0"/><rect x="162.2" y="689.6" width="4.0" height="4.0"/><rect x="168.3" y="669.0" width="4.0" height="4.0"/><rect x="174.4" y="661.8" width="4.0" height="4.0"/><rect x="180.4" y="656.1" width="4.0" height="4.0"/><rect x="186.5" y="656.7" width="4.0" height="4.0"/><rect x="192.6" y="657.0" width="4.0" height="4.0"/><rect x="198.7" y="639.7" width="4.0" height="4.0"/><rect x="204.8" y="630.9" width="4.0" height="4.0"/><rect x="210.8" y="625.2" width="4.0" height="4.0"/><rect x="216.9" y="627.2" width="4.0" height="4.0"/><rect x="223.0" y="631.5" width="4.0" height="4.0"/><rect x="229.1" y="636.4" width="4.0" height="4.0"/><rect x="235.2" y="638.8" width="4.0" height="4.0"/><rect x="241.2" y="640.1" width="4.0" height="4.0"/><rect x="247.3" y="642.0" width="4.0" height="4.0"/><rect x="253.4" y="645.9" width="4.0" height="4.0"/><rect x="259.5" y="652.2" width="4.0" height="4.0"/><rect x="265.6" y="660.8" width="4.0" height="4.0"/><rect x="271.6" y="666.5" width="4.0" height="4.0"/><rect x="277.7" y="664.1" width="4.0" height="4.0"/><rect x="283.8" y="661.1" width="4.0" height="4.0"/><rect x="289.9" y="663.7" width="4.0" height="4.0"/><rect x="296.0" y="672.2" width="4.0" height="4.0"/><rect x="302.0" y="685.8" width="4.0" height="4.0"/><rect x="308.1" y="700.7" width="4.0" height="4.0"/><rect x="314.2" y="730.6" width="4.0" height="4.0"/><rect x="320.3" y="809.2" width="4.0" height="4.0"/><rect x="326.4" y="947.4" width="4.0" height="4.0"/><rect x="332.4" y="969.5" width="4.0" height="4.0"/><rect x="338.5" y="970.5" width="4.0" height="4.0"/><rect x="344.6" y="970.5" width="4.0" height="4.0"/><rect x="350.7" y="970.5" width="4.0" height="4.0"/><rect x="356.8" y="970.5" width="4.0" height="4.0"/><rect x="362.8" y="970.5" width="4.0" height="4.0"/><rect x="368.9" y="970.5" width="4.0" height="4.0"/><rect x="375.0" y="970.5" width="4.0" height="4.0"/><rect x="381.1" y="970.5" width="4.0" height="4.0"/><rect x="387.2" y="970.5" width="4.0" height="4.0"/><rect x="393.2" y="970.5" width="4.0" height="4.0"/><rect x="399.3" y="970.5" width="4.0" height="4.0"/><rect x="405.4" y="970.5" width="4.0" height="4.0"/><rect x="411.5" y="970.5" width="4.0" height="4.0"/><rect x="417.6" y="970.5" width="4.0" height="4.0"/><rect x="423.6" y="970.5" width="4.0" height="4.0"/><rect x="429.7" y="970.5" width="4.0" height="4.0"/><rect x="435.8" y="970.5" width="4.0" height="4.0"/><rect x="441.9" y="970.5" width="4.0" height="4.0"/><rect x="448.0" y="970.5" width="4.0" height="4.0"/><rect x="454.0" y="970.5" width="4.0" height="4.0"/><rect x="460.1" y="970.5" width="4.0" height="4.0"/><rect x="466.2" y="970.5" width="4.0" height="4.0"/><rect x="472.3" y="970.5" width="4.0" height="4.0"/><rect x="478.4" y="970.5" width="4.0" height="4.0"/><rect x="484.4" y="970.5" width="4.0" height="4.0"/><rect x="490.5" y="970.5" width="4.0" height="4.0"/><rect x="496.6" y="970.5" width="4.0" height="4.0"/></g>
<polyline points="103.4,938.0 113.8,930.0 120.6,906.0 127.5,864.0 134.4,820.0 139.6,783.0 146.4,758.0 151.6,738.0 158.5,716.0 163.6,694.0 168.8,673.0 174.0,666.0 182.6,658.0 191.2,659.0 194.6,659.0 199.8,643.0 205.7,634.0 212.2,627.0 218.6,629.0 224.4,633.0 233.0,640.0 243.0,642.0 249.4,644.0 258.7,650.0 265.9,661.0 273.1,668.7 280.2,665.9 288.8,661.6 297.4,673.0 303.2,685.9 308.9,698.8 313.0,712.0 316.0,730.0 319.5,776.0 322.5,814.0 325.2,888.0 327.2,944.0 332.9,970.6 336.0,972.5 501.0,972.5" fill="none" stroke="#7a1fe6" stroke-width="1.4" stroke-linejoin="round" stroke-linecap="round" stroke-dasharray="1.3,2" />
<g fill="#7a1fe6"><circle cx="103.4" cy="938.0" r="2.0"/><circle cx="109.5" cy="933.3" r="2.0"/><circle cx="115.6" cy="923.8" r="2.0"/><circle cx="121.6" cy="899.7" r="2.0"/><circle cx="127.7" cy="862.6" r="2.0"/><circle cx="133.8" cy="823.8" r="2.0"/><circle cx="139.9" cy="782.0" r="2.0"/><circle cx="146.0" cy="759.6" r="2.0"/><circle cx="152.0" cy="736.6" r="2.0"/><circle cx="158.1" cy="717.2" r="2.0"/><circle cx="164.2" cy="691.6" r="2.0"/><circle cx="170.3" cy="671.0" r="2.0"/><circle cx="176.4" cy="663.8" r="2.0"/><circle cx="182.4" cy="658.1" r="2.0"/><circle cx="188.5" cy="658.7" r="2.0"/><circle cx="194.6" cy="659.0" r="2.0"/><circle cx="200.7" cy="641.7" r="2.0"/><circle cx="206.8" cy="632.9" r="2.0"/><circle cx="212.8" cy="627.2" r="2.0"/><circle cx="218.9" cy="629.2" r="2.0"/><circle cx="225.0" cy="633.5" r="2.0"/><circle cx="231.1" cy="638.4" r="2.0"/><circle cx="237.2" cy="640.8" r="2.0"/><circle cx="243.2" cy="642.1" r="2.0"/><circle cx="249.3" cy="644.0" r="2.0"/><circle cx="255.4" cy="647.9" r="2.0"/><circle cx="261.5" cy="654.2" r="2.0"/><circle cx="267.6" cy="662.8" r="2.0"/><circle cx="273.6" cy="668.5" r="2.0"/><circle cx="279.7" cy="666.1" r="2.0"/><circle cx="285.8" cy="663.1" r="2.0"/><circle cx="291.9" cy="665.7" r="2.0"/><circle cx="298.0" cy="674.2" r="2.0"/><circle cx="304.0" cy="687.8" r="2.0"/><circle cx="310.1" cy="702.7" r="2.0"/><circle cx="316.2" cy="732.6" r="2.0"/><circle cx="322.3" cy="811.2" r="2.0"/><circle cx="328.4" cy="949.4" r="2.0"/><circle cx="334.4" cy="971.5" r="2.0"/><circle cx="340.5" cy="972.5" r="2.0"/><circle cx="346.6" cy="972.5" r="2.0"/><circle cx="352.7" cy="972.5" r="2.0"/><circle cx="358.8" cy="972.5" r="2.0"/><circle cx="364.8" cy="972.5" r="2.0"/><circle cx="370.9" cy="972.5" r="2.0"/><circle cx="377.0" cy="972.5" r="2.0"/><circle cx="383.1" cy="972.5" r="2.0"/><circle cx="389.2" cy="972.5" r="2.0"/><circle cx="395.2" cy="972.5" r="2.0"/><circle cx="401.3" cy="972.5" r="2.0"/><circle cx="407.4" cy="972.5" r="2.0"/><circle cx="413.5" cy="972.5" r="2.0"/><circle cx="419.6" cy="972.5" r="2.0"/><circle cx="425.6" cy="972.5" r="2.0"/><circle cx="431.7" cy="972.5" r="2.0"/><circle cx="437.8" cy="972.5" r="2.0"/><circle cx="443.9" cy="972.5" r="2.0"/><circle cx="450.0" cy="972.5" r="2.0"/><circle cx="456.0" cy="972.5" r="2.0"/><circle cx="462.1" cy="972.5" r="2.0"/><circle cx="468.2" cy="972.5" r="2.0"/><circle cx="474.3" cy="972.5" r="2.0"/><circle cx="480.4" cy="972.5" r="2.0"/><circle cx="486.4" cy="972.5" r="2.0"/><circle cx="492.5" cy="972.5" r="2.0"/><circle cx="498.6" cy="972.5" r="2.0"/></g>
<polyline points="103.4,938.0 113.8,930.0 120.6,906.0 127.5,864.0 134.4,820.0 139.6,783.0 146.4,758.0 151.6,738.0 158.5,716.0 163.6,694.0 168.8,673.0 174.0,666.0 182.6,658.0 191.2,659.0 194.6,659.0 199.8,643.0 205.7,634.0 212.2,627.0 218.6,629.0 224.4,633.0 233.0,640.0 243.0,642.0 249.4,644.0 258.7,650.0 265.9,661.0 273.1,668.7 280.2,665.9 288.8,661.6 297.4,673.0 303.2,685.9 308.9,698.8 313.0,712.0 316.0,730.0 319.5,776.0 322.5,814.0 325.2,888.0 327.2,944.0 332.9,970.6 336.0,972.5 501.0,972.5" fill="none" stroke="#1f9be0" stroke-width="1.4" stroke-linejoin="round" stroke-linecap="round" stroke-dasharray="1.3,2" />
<g fill="#1f9be0"><polygon points="103.4,935.6 101.2,939.6 105.6,939.6"/><polygon points="109.5,930.9 107.3,934.9 111.7,934.9"/><polygon points="115.6,921.4 113.4,925.4 117.8,925.4"/><polygon points="121.6,897.3 119.4,901.3 123.8,901.3"/><polygon points="127.7,860.2 125.5,864.2 129.9,864.2"/><polygon points="133.8,821.4 131.6,825.4 136.0,825.4"/><polygon points="139.9,779.6 137.7,783.6 142.1,783.6"/><polygon points="146.0,757.2 143.8,761.2 148.2,761.2"/><polygon points="152.0,734.2 149.8,738.2 154.2,738.2"/><polygon points="158.1,714.8 155.9,718.8 160.3,718.8"/><polygon points="164.2,689.2 162.0,693.2 166.4,693.2"/><polygon points="170.3,668.6 168.1,672.6 172.5,672.6"/><polygon points="176.4,661.4 174.2,665.4 178.6,665.4"/><polygon points="182.4,655.7 180.2,659.7 184.6,659.7"/><polygon points="188.5,656.3 186.3,660.3 190.7,660.3"/><polygon points="194.6,656.6 192.4,660.6 196.8,660.6"/><polygon points="200.7,639.3 198.5,643.3 202.9,643.3"/><polygon points="206.8,630.5 204.6,634.5 209.0,634.5"/><polygon points="212.8,624.8 210.6,628.8 215.0,628.8"/><polygon points="218.9,626.8 216.7,630.8 221.1,630.8"/><polygon points="225.0,631.1 222.8,635.1 227.2,635.1"/><polygon points="231.1,636.0 228.9,640.0 233.3,640.0"/><polygon points="237.2,638.4 235.0,642.4 239.4,642.4"/><polygon points="243.2,639.7 241.0,643.7 245.4,643.7"/><polygon points="249.3,641.6 247.1,645.6 251.5,645.6"/><polygon points="255.4,645.5 253.2,649.5 257.6,649.5"/><polygon points="261.5,651.8 259.3,655.8 263.7,655.8"/><polygon points="267.6,660.4 265.4,664.4 269.8,664.4"/><polygon points="273.6,666.1 271.4,670.1 275.8,670.1"/><polygon points="279.7,663.7 277.5,667.7 281.9,667.7"/><polygon points="285.8,660.7 283.6,664.7 288.0,664.7"/><polygon points="291.9,663.3 289.7,667.3 294.1,667.3"/><polygon points="298.0,671.8 295.8,675.8 300.2,675.8"/><polygon points="304.0,685.4 301.8,689.4 306.2,689.4"/><polygon points="310.1,700.3 307.9,704.3 312.3,704.3"/><polygon points="316.2,730.2 314.0,734.2 318.4,734.2"/><polygon points="322.3,808.8 320.1,812.8 324.5,812.8"/><polygon points="328.4,947.0 326.2,951.0 330.6,951.0"/><polygon points="334.4,969.1 332.2,973.1 336.6,973.1"/><polygon points="340.5,970.1 338.3,974.1 342.7,974.1"/><polygon points="346.6,970.1 344.4,974.1 348.8,974.1"/><polygon points="352.7,970.1 350.5,974.1 354.9,974.1"/><polygon points="358.8,970.1 356.6,974.1 361.0,974.1"/><polygon points="364.8,970.1 362.6,974.1 367.0,974.1"/><polygon points="370.9,970.1 368.7,974.1 373.1,974.1"/><polygon points="377.0,970.1 374.8,974.1 379.2,974.1"/><polygon points="383.1,970.1 380.9,974.1 385.3,974.1"/><polygon points="389.2,970.1 387.0,974.1 391.4,974.1"/><polygon points="395.2,970.1 393.0,974.1 397.4,974.1"/><polygon points="401.3,970.1 399.1,974.1 403.5,974.1"/><polygon points="407.4,970.1 405.2,974.1 409.6,974.1"/><polygon points="413.5,970.1 411.3,974.1 415.7,974.1"/><polygon points="419.6,970.1 417.4,974.1 421.8,974.1"/><polygon points="425.6,970.1 423.4,974.1 427.8,974.1"/><polygon points="431.7,970.1 429.5,974.1 433.9,974.1"/><polygon points="437.8,970.1 435.6,974.1 440.0,974.1"/><polygon points="443.9,970.1 441.7,974.1 446.1,974.1"/><polygon points="450.0,970.1 447.8,974.1 452.2,974.1"/><polygon points="456.0,970.1 453.8,974.1 458.2,974.1"/><polygon points="462.1,970.1 459.9,974.1 464.3,974.1"/><polygon points="468.2,970.1 466.0,974.1 470.4,974.1"/><polygon points="474.3,970.1 472.1,974.1 476.5,974.1"/><polygon points="480.4,970.1 478.2,974.1 482.6,974.1"/><polygon points="486.4,970.1 484.2,974.1 488.6,974.1"/><polygon points="492.5,970.1 490.3,974.1 494.7,974.1"/><polygon points="498.6,970.1 496.4,974.1 500.8,974.1"/></g>
<polyline points="103.4,937.0 113.8,929.0 120.6,905.0 127.5,865.0 134.4,822.0 139.6,785.0 146.4,760.0 151.6,740.0 158.5,718.0 163.6,694.0 168.8,672.0 174.0,664.0 182.6,656.0 191.2,657.0 194.6,657.0 199.8,641.0 205.7,632.0 212.2,625.0 218.6,626.0 224.4,630.0 233.0,633.6 243.0,635.0 249.4,638.0 258.7,645.1 265.9,654.4 274.5,657.3 286.0,658.0 293.1,659.4 300.3,665.9 307.5,677.3 313.2,696.0 317.5,718.9 320.0,770.0 323.0,820.0 325.5,880.0 328.0,940.0 333.0,971.0 336.0,972.5 501.0,972.5" fill="none" stroke="#a6f04a" stroke-width="2.4" stroke-linejoin="round" stroke-linecap="round" />
<g fill="#a6f04a"><polygon points="103.4,934.6 101.2,938.6 105.6,938.6"/><polygon points="109.5,929.9 107.3,933.9 111.7,933.9"/><polygon points="115.6,920.4 113.4,924.4 117.8,924.4"/><polygon points="121.6,896.6 119.4,900.6 123.8,900.6"/><polygon points="127.7,861.2 125.5,865.2 129.9,865.2"/><polygon points="133.8,823.3 131.6,827.3 136.0,827.3"/><polygon points="139.9,781.6 137.7,785.6 142.1,785.6"/><polygon points="146.0,759.2 143.8,763.2 148.2,763.2"/><polygon points="152.0,736.2 149.8,740.2 154.2,740.2"/><polygon points="158.1,716.8 155.9,720.8 160.3,720.8"/><polygon points="164.2,689.1 162.0,693.1 166.4,693.1"/><polygon points="170.3,667.3 168.1,671.3 172.5,671.3"/><polygon points="176.4,659.4 174.2,663.4 178.6,663.4"/><polygon points="182.4,653.7 180.2,657.7 184.6,657.7"/><polygon points="188.5,654.3 186.3,658.3 190.7,658.3"/><polygon points="194.6,654.6 192.4,658.6 196.8,658.6"/><polygon points="200.7,637.3 198.5,641.3 202.9,641.3"/><polygon points="206.8,628.5 204.6,632.5 209.0,632.5"/><polygon points="212.8,622.7 210.6,626.7 215.0,626.7"/><polygon points="218.9,623.8 216.7,627.8 221.1,627.8"/><polygon points="225.0,627.9 222.8,631.9 227.2,631.9"/><polygon points="231.1,630.4 228.9,634.4 233.3,634.4"/><polygon points="237.2,631.8 235.0,635.8 239.4,635.8"/><polygon points="243.2,632.7 241.0,636.7 245.4,636.7"/><polygon points="249.3,635.6 247.1,639.6 251.5,639.6"/><polygon points="255.4,640.2 253.2,644.2 257.6,644.2"/><polygon points="261.5,646.3 259.3,650.3 263.7,650.3"/><polygon points="267.6,652.6 265.4,656.6 269.8,656.6"/><polygon points="273.6,654.6 271.4,658.6 275.8,658.6"/><polygon points="279.7,655.2 277.5,659.2 281.9,659.2"/><polygon points="285.8,655.6 283.6,659.6 288.0,659.6"/><polygon points="291.9,656.8 289.7,660.8 294.1,660.8"/><polygon points="298.0,661.4 295.8,665.4 300.2,665.4"/><polygon points="304.0,669.4 301.8,673.4 306.2,673.4"/><polygon points="310.1,683.5 307.9,687.5 312.3,687.5"/><polygon points="316.2,709.6 314.0,713.6 318.4,713.6"/><polygon points="322.3,805.6 320.1,809.6 324.5,809.6"/><polygon points="328.4,939.8 326.2,943.8 330.6,943.8"/><polygon points="334.4,969.3 332.2,973.3 336.6,973.3"/><polygon points="340.5,970.1 338.3,974.1 342.7,974.1"/><polygon points="346.6,970.1 344.4,974.1 348.8,974.1"/><polygon points="352.7,970.1 350.5,974.1 354.9,974.1"/><polygon points="358.8,970.1 356.6,974.1 361.0,974.1"/><polygon points="364.8,970.1 362.6,974.1 367.0,974.1"/><polygon points="370.9,970.1 368.7,974.1 373.1,974.1"/><polygon points="377.0,970.1 374.8,974.1 379.2,974.1"/><polygon points="383.1,970.1 380.9,974.1 385.3,974.1"/><polygon points="389.2,970.1 387.0,974.1 391.4,974.1"/><polygon points="395.2,970.1 393.0,974.1 397.4,974.1"/><polygon points="401.3,970.1 399.1,974.1 403.5,974.1"/><polygon points="407.4,970.1 405.2,974.1 409.6,974.1"/><polygon points="413.5,970.1 411.3,974.1 415.7,974.1"/><polygon points="419.6,970.1 417.4,974.1 421.8,974.1"/><polygon points="425.6,970.1 423.4,974.1 427.8,974.1"/><polygon points="431.7,970.1 429.5,974.1 433.9,974.1"/><polygon points="437.8,970.1 435.6,974.1 440.0,974.1"/><polygon points="443.9,970.1 441.7,974.1 446.1,974.1"/><polygon points="450.0,970.1 447.8,974.1 452.2,974.1"/><polygon points="456.0,970.1 453.8,974.1 458.2,974.1"/><polygon points="462.1,970.1 459.9,974.1 464.3,974.1"/><polygon points="468.2,970.1 466.0,974.1 470.4,974.1"/><polygon points="474.3,970.1 472.1,974.1 476.5,974.1"/><polygon points="480.4,970.1 478.2,974.1 482.6,974.1"/><polygon points="486.4,970.1 484.2,974.1 488.6,974.1"/><polygon points="492.5,970.1 490.3,974.1 494.7,974.1"/><polygon points="498.6,970.1 496.4,974.1 500.8,974.1"/></g>
<polyline points="103.4,937.4 113.8,930.0 120.6,908.0 127.5,872.0 134.4,838.0 139.6,800.0 146.4,768.0 151.6,750.0 158.5,727.0 163.6,700.0 168.8,675.0 174.0,667.0 182.6,659.0 191.2,661.0 194.6,660.0 199.8,645.0 205.7,635.0 212.2,628.6 218.6,630.0 224.4,633.6 230.1,638.7 237.3,639.4 243.0,639.4 249.4,640.8 255.2,646.5 260.9,653.0 267.3,658.7 273.8,657.3 279.5,659.4 286.0,663.7 291.7,665.9 298.9,668.7 304.6,673.0 310.3,684.5 314.6,701.7 317.5,716.0 319.6,760.0 322.0,800.0 324.5,850.0 326.5,900.0 328.5,945.0 333.5,970.6 337.0,972.5 501.0,972.5" fill="none" stroke="#f0901e" stroke-width="2.4" stroke-linejoin="round" stroke-linecap="round" />
<g fill="#f0901e"><polygon points="103.4,935.0 101.4,937.4 103.4,939.8 105.4,937.4"/><polygon points="109.5,930.7 107.5,933.1 109.5,935.5 111.5,933.1"/><polygon points="115.6,921.9 113.6,924.3 115.6,926.7 117.6,924.3"/><polygon points="121.6,900.2 119.6,902.6 121.6,905.0 123.6,902.6"/><polygon points="127.7,868.5 125.7,870.9 127.7,873.3 129.7,870.9"/><polygon points="133.8,838.6 131.8,841.0 133.8,843.4 135.8,841.0"/><polygon points="139.9,796.3 137.9,798.7 139.9,801.1 141.9,798.7"/><polygon points="146.0,767.7 144.0,770.1 146.0,772.5 148.0,770.1"/><polygon points="152.0,746.1 150.0,748.5 152.0,750.9 154.0,748.5"/><polygon points="158.1,725.9 156.1,728.3 158.1,730.7 160.1,728.3"/><polygon points="164.2,694.7 162.2,697.1 164.2,699.5 166.2,697.1"/><polygon points="170.3,670.3 168.3,672.7 170.3,675.1 172.3,672.7"/><polygon points="176.4,662.4 174.4,664.8 176.4,667.2 178.4,664.8"/><polygon points="182.4,656.7 180.4,659.1 182.4,661.5 184.4,659.1"/><polygon points="188.5,658.0 186.5,660.4 188.5,662.8 190.5,660.4"/><polygon points="194.6,657.6 192.6,660.0 194.6,662.4 196.6,660.0"/><polygon points="200.7,641.1 198.7,643.5 200.7,645.9 202.7,643.5"/><polygon points="206.8,631.6 204.8,634.0 206.8,636.4 208.8,634.0"/><polygon points="212.8,626.3 210.8,628.7 212.8,631.1 214.8,628.7"/><polygon points="218.9,627.8 216.9,630.2 218.9,632.6 220.9,630.2"/><polygon points="225.0,631.7 223.0,634.1 225.0,636.5 227.0,634.1"/><polygon points="231.1,636.4 229.1,638.8 231.1,641.2 233.1,638.8"/><polygon points="237.2,637.0 235.2,639.4 237.2,641.8 239.2,639.4"/><polygon points="243.2,637.1 241.2,639.5 243.2,641.9 245.2,639.5"/><polygon points="249.3,638.4 247.3,640.8 249.3,643.2 251.3,640.8"/><polygon points="255.4,644.3 253.4,646.7 255.4,649.1 257.4,646.7"/><polygon points="261.5,651.1 259.5,653.5 261.5,655.9 263.5,653.5"/><polygon points="267.6,656.2 265.6,658.6 267.6,661.0 269.6,658.6"/><polygon points="273.6,654.9 271.6,657.3 273.6,659.7 275.6,657.3"/><polygon points="279.7,657.1 277.7,659.5 279.7,661.9 281.7,659.5"/><polygon points="285.8,661.2 283.8,663.6 285.8,666.0 287.8,663.6"/><polygon points="291.9,663.6 289.9,666.0 291.9,668.4 293.9,666.0"/><polygon points="298.0,665.9 296.0,668.3 298.0,670.7 300.0,668.3"/><polygon points="304.0,670.2 302.0,672.6 304.0,675.0 306.0,672.6"/><polygon points="310.1,681.7 308.1,684.1 310.1,686.5 312.1,684.1"/><polygon points="316.2,707.2 314.2,709.6 316.2,712.0 318.2,709.6"/><polygon points="322.3,803.2 320.3,805.6 322.3,808.0 324.3,805.6"/><polygon points="328.4,939.5 326.4,941.9 328.4,944.3 330.4,941.9"/><polygon points="334.4,968.7 332.4,971.1 334.4,973.5 336.4,971.1"/><polygon points="340.5,970.1 338.5,972.5 340.5,974.9 342.5,972.5"/><polygon points="346.6,970.1 344.6,972.5 346.6,974.9 348.6,972.5"/><polygon points="352.7,970.1 350.7,972.5 352.7,974.9 354.7,972.5"/><polygon points="358.8,970.1 356.8,972.5 358.8,974.9 360.8,972.5"/><polygon points="364.8,970.1 362.8,972.5 364.8,974.9 366.8,972.5"/><polygon points="370.9,970.1 368.9,972.5 370.9,974.9 372.9,972.5"/><polygon points="377.0,970.1 375.0,972.5 377.0,974.9 379.0,972.5"/><polygon points="383.1,970.1 381.1,972.5 383.1,974.9 385.1,972.5"/><polygon points="389.2,970.1 387.2,972.5 389.2,974.9 391.2,972.5"/><polygon points="395.2,970.1 393.2,972.5 395.2,974.9 397.2,972.5"/><polygon points="401.3,970.1 399.3,972.5 401.3,974.9 403.3,972.5"/><polygon points="407.4,970.1 405.4,972.5 407.4,974.9 409.4,972.5"/><polygon points="413.5,970.1 411.5,972.5 413.5,974.9 415.5,972.5"/><polygon points="419.6,970.1 417.6,972.5 419.6,974.9 421.6,972.5"/><polygon points="425.6,970.1 423.6,972.5 425.6,974.9 427.6,972.5"/><polygon points="431.7,970.1 429.7,972.5 431.7,974.9 433.7,972.5"/><polygon points="437.8,970.1 435.8,972.5 437.8,974.9 439.8,972.5"/><polygon points="443.9,970.1 441.9,972.5 443.9,974.9 445.9,972.5"/><polygon points="450.0,970.1 448.0,972.5 450.0,974.9 452.0,972.5"/><polygon points="456.0,970.1 454.0,972.5 456.0,974.9 458.0,972.5"/><polygon points="462.1,970.1 460.1,972.5 462.1,974.9 464.1,972.5"/><polygon points="468.2,970.1 466.2,972.5 468.2,974.9 470.2,972.5"/><polygon points="474.3,970.1 472.3,972.5 474.3,974.9 476.3,972.5"/><polygon points="480.4,970.1 478.4,972.5 480.4,974.9 482.4,972.5"/><polygon points="486.4,970.1 484.4,972.5 486.4,974.9 488.4,972.5"/><polygon points="492.5,970.1 490.5,972.5 492.5,974.9 494.5,972.5"/><polygon points="498.6,970.1 496.6,972.5 498.6,974.9 500.6,972.5"/></g>
<polyline points="103.5,972.5 205.0,972.5 210.8,970.3 219.5,968.0 226.0,963.5 230.3,957.0 237.9,956.0 243.3,954.0 249.8,952.0 256.3,948.0 261.8,942.0 267.2,935.5 273.7,931.0 280.2,931.5 286.7,933.5 293.2,932.0 298.6,929.0 304.0,921.0 308.3,912.0 312.4,882.0 316.0,842.0 320.0,782.0 323.0,716.0 325.5,670.0 326.7,635.7 331.0,620.0 336.0,611.7 340.0,623.7 347.3,630.3 353.3,622.3 360.0,611.7 365.3,607.0 376.0,607.7 382.7,613.7 389.3,618.3 396.0,619.7 402.7,618.3 410.7,617.7 418.7,618.3 425.3,621.0 430.7,630.3 434.7,641.0 437.3,654.3 440.0,672.0 442.5,700.0 445.5,745.0 449.5,799.0 452.5,862.0 456.4,920.0 460.6,947.0 467.1,954.0 475.2,956.0 481.7,962.0 489.8,967.0 497.9,972.0 501.0,972.5" fill="none" stroke="#e020e0" stroke-width="2.3" stroke-linejoin="round" stroke-linecap="round" />
<g fill="#e020e0"><rect x="101.5" y="970.5" width="4.0" height="4.0"/><rect x="107.6" y="970.5" width="4.0" height="4.0"/><rect x="113.7" y="970.5" width="4.0" height="4.0"/><rect x="119.7" y="970.5" width="4.0" height="4.0"/><rect x="125.8" y="970.5" width="4.0" height="4.0"/><rect x="131.9" y="970.5" width="4.0" height="4.0"/><rect x="138.0" y="970.5" width="4.0" height="4.0"/><rect x="144.1" y="970.5" width="4.0" height="4.0"/><rect x="150.1" y="970.5" width="4.0" height="4.0"/><rect x="156.2" y="970.5" width="4.0" height="4.0"/><rect x="162.3" y="970.5" width="4.0" height="4.0"/><rect x="168.4" y="970.5" width="4.0" height="4.0"/><rect x="174.5" y="970.5" width="4.0" height="4.0"/><rect x="180.5" y="970.5" width="4.0" height="4.0"/><rect x="186.6" y="970.5" width="4.0" height="4.0"/><rect x="192.7" y="970.5" width="4.0" height="4.0"/><rect x="198.8" y="970.5" width="4.0" height="4.0"/><rect x="204.9" y="969.8" width="4.0" height="4.0"/><rect x="210.9" y="967.7" width="4.0" height="4.0"/><rect x="217.0" y="966.1" width="4.0" height="4.0"/><rect x="223.1" y="962.1" width="4.0" height="4.0"/><rect x="229.2" y="954.9" width="4.0" height="4.0"/><rect x="235.3" y="954.1" width="4.0" height="4.0"/><rect x="241.3" y="952.0" width="4.0" height="4.0"/><rect x="247.4" y="950.1" width="4.0" height="4.0"/><rect x="253.5" y="946.5" width="4.0" height="4.0"/><rect x="259.6" y="940.2" width="4.0" height="4.0"/><rect x="265.7" y="933.2" width="4.0" height="4.0"/><rect x="271.7" y="929.0" width="4.0" height="4.0"/><rect x="277.8" y="929.5" width="4.0" height="4.0"/><rect x="283.9" y="931.3" width="4.0" height="4.0"/><rect x="290.0" y="930.3" width="4.0" height="4.0"/><rect x="296.1" y="927.3" width="4.0" height="4.0"/><rect x="302.1" y="918.7" width="4.0" height="4.0"/><rect x="308.2" y="896.0" width="4.0" height="4.0"/><rect x="314.3" y="835.5" width="4.0" height="4.0"/><rect x="320.4" y="727.6" width="4.0" height="4.0"/><rect x="326.5" y="627.3" width="4.0" height="4.0"/><rect x="332.5" y="612.1" width="4.0" height="4.0"/><rect x="338.6" y="622.3" width="4.0" height="4.0"/><rect x="344.7" y="627.8" width="4.0" height="4.0"/><rect x="350.8" y="621.0" width="4.0" height="4.0"/><rect x="356.9" y="611.5" width="4.0" height="4.0"/><rect x="362.9" y="605.3" width="4.0" height="4.0"/><rect x="369.0" y="605.4" width="4.0" height="4.0"/><rect x="375.1" y="606.7" width="4.0" height="4.0"/><rect x="381.2" y="612.0" width="4.0" height="4.0"/><rect x="387.3" y="616.3" width="4.0" height="4.0"/><rect x="393.3" y="617.6" width="4.0" height="4.0"/><rect x="399.4" y="616.6" width="4.0" height="4.0"/><rect x="405.5" y="615.9" width="4.0" height="4.0"/><rect x="411.6" y="615.9" width="4.0" height="4.0"/><rect x="417.7" y="616.7" width="4.0" height="4.0"/><rect x="423.7" y="619.8" width="4.0" height="4.0"/><rect x="429.8" y="631.3" width="4.0" height="4.0"/><rect x="435.9" y="656.2" width="4.0" height="4.0"/><rect x="442.0" y="720.2" width="4.0" height="4.0"/><rect x="448.1" y="808.8" width="4.0" height="4.0"/><rect x="454.1" y="914.1" width="4.0" height="4.0"/><rect x="460.2" y="946.7" width="4.0" height="4.0"/><rect x="466.3" y="952.3" width="4.0" height="4.0"/><rect x="472.4" y="953.8" width="4.0" height="4.0"/><rect x="478.5" y="958.9" width="4.0" height="4.0"/><rect x="484.5" y="963.0" width="4.0" height="4.0"/><rect x="490.6" y="966.7" width="4.0" height="4.0"/><rect x="496.7" y="970.1" width="4.0" height="4.0"/></g>
<polyline points="103.5,972.5 205.0,972.5 210.8,970.3 219.5,968.0 226.0,963.5 230.3,957.0 237.9,956.0 243.3,954.0 249.8,952.0 256.3,948.0 261.8,942.0 267.2,935.5 273.7,931.0 280.2,931.5 286.7,933.5 293.2,932.0 298.6,929.0 304.0,921.0 308.3,912.0 312.4,882.0 316.0,842.0 320.0,782.0 323.0,716.0 325.5,670.0 326.7,635.7 331.0,620.0 336.0,611.7 340.0,623.7 347.3,630.3 353.3,622.3 360.0,611.7 365.3,607.0 376.0,607.7 382.7,613.7 389.3,618.3 396.0,619.7 402.7,618.3 410.7,617.7 418.7,618.3 425.3,621.0 430.7,630.3 434.7,641.0 437.3,654.3 440.0,672.0 442.5,700.0 445.5,745.0 449.5,799.0 452.5,862.0 456.4,920.0 460.6,947.0 467.1,954.0 475.2,956.0 481.7,962.0 489.8,967.0 497.9,972.0 501.0,972.5" fill="none" stroke="#7a1fe6" stroke-width="1.4" stroke-linejoin="round" stroke-linecap="round" stroke-dasharray="1.3,2" />
<g fill="#7a1fe6"><circle cx="103.5" cy="972.5" r="2.0"/><circle cx="109.6" cy="972.5" r="2.0"/><circle cx="115.7" cy="972.5" r="2.0"/><circle cx="121.7" cy="972.5" r="2.0"/><circle cx="127.8" cy="972.5" r="2.0"/><circle cx="133.9" cy="972.5" r="2.0"/><circle cx="140.0" cy="972.5" r="2.0"/><circle cx="146.1" cy="972.5" r="2.0"/><circle cx="152.1" cy="972.5" r="2.0"/><circle cx="158.2" cy="972.5" r="2.0"/><circle cx="164.3" cy="972.5" r="2.0"/><circle cx="170.4" cy="972.5" r="2.0"/><circle cx="176.5" cy="972.5" r="2.0"/><circle cx="182.5" cy="972.5" r="2.0"/><circle cx="188.6" cy="972.5" r="2.0"/><circle cx="194.7" cy="972.5" r="2.0"/><circle cx="200.8" cy="972.5" r="2.0"/><circle cx="206.9" cy="971.8" r="2.0"/><circle cx="212.9" cy="969.7" r="2.0"/><circle cx="219.0" cy="968.1" r="2.0"/><circle cx="225.1" cy="964.1" r="2.0"/><circle cx="231.2" cy="956.9" r="2.0"/><circle cx="237.3" cy="956.1" r="2.0"/><circle cx="243.3" cy="954.0" r="2.0"/><circle cx="249.4" cy="952.1" r="2.0"/><circle cx="255.5" cy="948.5" r="2.0"/><circle cx="261.6" cy="942.2" r="2.0"/><circle cx="267.7" cy="935.2" r="2.0"/><circle cx="273.7" cy="931.0" r="2.0"/><circle cx="279.8" cy="931.5" r="2.0"/><circle cx="285.9" cy="933.3" r="2.0"/><circle cx="292.0" cy="932.3" r="2.0"/><circle cx="298.1" cy="929.3" r="2.0"/><circle cx="304.1" cy="920.7" r="2.0"/><circle cx="310.2" cy="898.0" r="2.0"/><circle cx="316.3" cy="837.5" r="2.0"/><circle cx="322.4" cy="729.6" r="2.0"/><circle cx="328.5" cy="629.3" r="2.0"/><circle cx="334.5" cy="614.1" r="2.0"/><circle cx="340.6" cy="624.3" r="2.0"/><circle cx="346.7" cy="629.8" r="2.0"/><circle cx="352.8" cy="623.0" r="2.0"/><circle cx="358.9" cy="613.5" r="2.0"/><circle cx="364.9" cy="607.3" r="2.0"/><circle cx="371.0" cy="607.4" r="2.0"/><circle cx="377.1" cy="608.7" r="2.0"/><circle cx="383.2" cy="614.0" r="2.0"/><circle cx="389.3" cy="618.3" r="2.0"/><circle cx="395.3" cy="619.6" r="2.0"/><circle cx="401.4" cy="618.6" r="2.0"/><circle cx="407.5" cy="617.9" r="2.0"/><circle cx="413.6" cy="617.9" r="2.0"/><circle cx="419.7" cy="618.7" r="2.0"/><circle cx="425.7" cy="621.8" r="2.0"/><circle cx="431.8" cy="633.3" r="2.0"/><circle cx="437.9" cy="658.2" r="2.0"/><circle cx="444.0" cy="722.2" r="2.0"/><circle cx="450.1" cy="810.8" r="2.0"/><circle cx="456.1" cy="916.1" r="2.0"/><circle cx="462.2" cy="948.7" r="2.0"/><circle cx="468.3" cy="954.3" r="2.0"/><circle cx="474.4" cy="955.8" r="2.0"/><circle cx="480.5" cy="960.9" r="2.0"/><circle cx="486.5" cy="965.0" r="2.0"/><circle cx="492.6" cy="968.7" r="2.0"/><circle cx="498.7" cy="972.1" r="2.0"/></g>
<polyline points="103.5,972.5 205.0,972.5 210.8,970.3 219.5,968.0 226.0,963.5 230.3,957.0 237.9,956.0 243.3,954.0 249.8,952.0 256.3,948.0 261.8,942.0 267.2,935.5 273.7,931.0 280.2,931.5 286.7,933.5 293.2,932.0 298.6,929.0 304.0,921.0 308.3,912.0 312.4,882.0 316.0,842.0 320.0,782.0 323.0,716.0 325.5,670.0 326.7,635.7 331.0,620.0 336.0,611.7 340.0,623.7 347.3,630.3 353.3,622.3 360.0,611.7 365.3,603.0 376.0,603.7 382.7,609.7 389.3,614.3 396.0,615.7 402.7,614.3 410.7,613.7 418.7,614.3 425.3,617.0 430.7,626.3 434.7,641.0 437.3,654.3 440.0,672.0 442.5,700.0 445.5,745.0 449.5,799.0 452.5,862.0 456.4,920.0 460.6,947.0 467.1,954.0 475.2,956.0 481.7,962.0 489.8,967.0 497.9,972.0 501.0,972.5" fill="none" stroke="#1f9be0" stroke-width="1.4" stroke-linejoin="round" stroke-linecap="round" stroke-dasharray="1.3,2" />
<g fill="#1f9be0"><polygon points="103.5,970.1 101.3,974.1 105.7,974.1"/><polygon points="109.6,970.1 107.4,974.1 111.8,974.1"/><polygon points="115.7,970.1 113.5,974.1 117.9,974.1"/><polygon points="121.7,970.1 119.5,974.1 123.9,974.1"/><polygon points="127.8,970.1 125.6,974.1 130.0,974.1"/><polygon points="133.9,970.1 131.7,974.1 136.1,974.1"/><polygon points="140.0,970.1 137.8,974.1 142.2,974.1"/><polygon points="146.1,970.1 143.9,974.1 148.3,974.1"/><polygon points="152.1,970.1 149.9,974.1 154.3,974.1"/><polygon points="158.2,970.1 156.0,974.1 160.4,974.1"/><polygon points="164.3,970.1 162.1,974.1 166.5,974.1"/><polygon points="170.4,970.1 168.2,974.1 172.6,974.1"/><polygon points="176.5,970.1 174.3,974.1 178.7,974.1"/><polygon points="182.5,970.1 180.3,974.1 184.7,974.1"/><polygon points="188.6,970.1 186.4,974.1 190.8,974.1"/><polygon points="194.7,970.1 192.5,974.1 196.9,974.1"/><polygon points="200.8,970.1 198.6,974.1 203.0,974.1"/><polygon points="206.9,969.4 204.7,973.4 209.1,973.4"/><polygon points="212.9,967.3 210.7,971.3 215.1,971.3"/><polygon points="219.0,965.7 216.8,969.7 221.2,969.7"/><polygon points="225.1,961.7 222.9,965.7 227.3,965.7"/><polygon points="231.2,954.5 229.0,958.5 233.4,958.5"/><polygon points="237.3,953.7 235.1,957.7 239.5,957.7"/><polygon points="243.3,951.6 241.1,955.6 245.5,955.6"/><polygon points="249.4,949.7 247.2,953.7 251.6,953.7"/><polygon points="255.5,946.1 253.3,950.1 257.7,950.1"/><polygon points="261.6,939.8 259.4,943.8 263.8,943.8"/><polygon points="267.7,932.8 265.5,936.8 269.9,936.8"/><polygon points="273.7,928.6 271.5,932.6 275.9,932.6"/><polygon points="279.8,929.1 277.6,933.1 282.0,933.1"/><polygon points="285.9,930.9 283.7,934.9 288.1,934.9"/><polygon points="292.0,929.9 289.8,933.9 294.2,933.9"/><polygon points="298.1,926.9 295.9,930.9 300.3,930.9"/><polygon points="304.1,918.3 301.9,922.3 306.3,922.3"/><polygon points="310.2,895.6 308.0,899.6 312.4,899.6"/><polygon points="316.3,835.1 314.1,839.1 318.5,839.1"/><polygon points="322.4,727.2 320.2,731.2 324.6,731.2"/><polygon points="328.5,626.9 326.3,630.9 330.7,630.9"/><polygon points="334.5,611.7 332.3,615.7 336.7,615.7"/><polygon points="340.6,621.9 338.4,625.9 342.8,625.9"/><polygon points="346.7,627.4 344.5,631.4 348.9,631.4"/><polygon points="352.8,620.6 350.6,624.6 355.0,624.6"/><polygon points="358.9,611.1 356.7,615.1 361.1,615.1"/><polygon points="364.9,601.2 362.7,605.2 367.1,605.2"/><polygon points="371.0,601.0 368.8,605.0 373.2,605.0"/><polygon points="377.1,602.3 374.9,606.3 379.3,606.3"/><polygon points="383.2,607.6 381.0,611.6 385.4,611.6"/><polygon points="389.3,611.9 387.1,615.9 391.5,615.9"/><polygon points="395.3,613.2 393.1,617.2 397.5,617.2"/><polygon points="401.4,612.2 399.2,616.2 403.6,616.2"/><polygon points="407.5,611.5 405.3,615.5 409.7,615.5"/><polygon points="413.6,611.5 411.4,615.5 415.8,615.5"/><polygon points="419.7,612.3 417.5,616.3 421.9,616.3"/><polygon points="425.7,615.4 423.5,619.4 427.9,619.4"/><polygon points="431.8,628.0 429.6,632.0 434.0,632.0"/><polygon points="437.9,655.8 435.7,659.8 440.1,659.8"/><polygon points="444.0,719.8 441.8,723.8 446.2,723.8"/><polygon points="450.1,808.4 447.9,812.4 452.3,812.4"/><polygon points="456.1,913.7 453.9,917.7 458.3,917.7"/><polygon points="462.2,946.3 460.0,950.3 464.4,950.3"/><polygon points="468.3,951.9 466.1,955.9 470.5,955.9"/><polygon points="474.4,953.4 472.2,957.4 476.6,957.4"/><polygon points="480.5,958.5 478.3,962.5 482.7,962.5"/><polygon points="486.5,962.6 484.3,966.6 488.7,966.6"/><polygon points="492.6,966.3 490.4,970.3 494.8,970.3"/><polygon points="498.7,969.7 496.5,973.7 500.9,973.7"/></g>
<polyline points="103.5,972.5 205.0,972.5 210.8,970.0 219.5,967.5 226.0,962.5 230.3,956.0 237.9,955.0 243.3,953.0 249.8,951.0 256.3,947.0 261.8,941.0 267.2,934.0 273.7,929.0 280.2,930.0 286.7,932.0 293.2,930.0 298.6,927.0 304.0,919.0 308.3,910.0 312.4,880.0 316.0,838.0 320.0,775.0 323.0,715.0 326.0,641.0 330.0,615.0 334.7,604.3 340.0,611.0 344.7,616.3 349.0,612.0 354.7,607.7 364.0,601.0 370.7,599.0 377.3,602.3 384.0,607.0 392.0,609.7 400.0,611.0 408.0,610.3 416.0,611.0 422.7,613.0 428.0,615.7 432.0,619.7 436.0,632.0 439.0,648.0 441.5,670.0 443.3,690.0 446.0,725.0 449.0,772.0 451.5,832.0 454.5,890.0 457.0,925.0 461.0,945.0 467.1,950.5 475.2,952.0 481.7,958.0 489.8,963.5 497.9,970.8 501.0,972.5" fill="none" stroke="#a6f04a" stroke-width="2.4" stroke-linejoin="round" stroke-linecap="round" />
<g fill="#a6f04a"><polygon points="103.5,970.1 101.3,974.1 105.7,974.1"/><polygon points="109.6,970.1 107.4,974.1 111.8,974.1"/><polygon points="115.7,970.1 113.5,974.1 117.9,974.1"/><polygon points="121.7,970.1 119.5,974.1 123.9,974.1"/><polygon points="127.8,970.1 125.6,974.1 130.0,974.1"/><polygon points="133.9,970.1 131.7,974.1 136.1,974.1"/><polygon points="140.0,970.1 137.8,974.1 142.2,974.1"/><polygon points="146.1,970.1 143.9,974.1 148.3,974.1"/><polygon points="152.1,970.1 149.9,974.1 154.3,974.1"/><polygon points="158.2,970.1 156.0,974.1 160.4,974.1"/><polygon points="164.3,970.1 162.1,974.1 166.5,974.1"/><polygon points="170.4,970.1 168.2,974.1 172.6,974.1"/><polygon points="176.5,970.1 174.3,974.1 178.7,974.1"/><polygon points="182.5,970.1 180.3,974.1 184.7,974.1"/><polygon points="188.6,970.1 186.4,974.1 190.8,974.1"/><polygon points="194.7,970.1 192.5,974.1 196.9,974.1"/><polygon points="200.8,970.1 198.6,974.1 203.0,974.1"/><polygon points="206.9,969.3 204.7,973.3 209.1,973.3"/><polygon points="212.9,967.0 210.7,971.0 215.1,971.0"/><polygon points="219.0,965.2 216.8,969.2 221.2,969.2"/><polygon points="225.1,960.8 222.9,964.8 227.3,964.8"/><polygon points="231.2,953.5 229.0,957.5 233.4,957.5"/><polygon points="237.3,952.7 235.1,956.7 239.5,956.7"/><polygon points="243.3,950.6 241.1,954.6 245.5,954.6"/><polygon points="249.4,948.7 247.2,952.7 251.6,952.7"/><polygon points="255.5,945.1 253.3,949.1 257.7,949.1"/><polygon points="261.6,938.8 259.4,942.8 263.8,942.8"/><polygon points="267.7,931.2 265.5,935.2 269.9,935.2"/><polygon points="273.7,926.6 271.5,930.6 275.9,930.6"/><polygon points="279.8,927.5 277.6,931.5 282.0,931.5"/><polygon points="285.9,929.4 283.7,933.4 288.1,933.4"/><polygon points="292.0,928.0 289.8,932.0 294.2,932.0"/><polygon points="298.1,924.9 295.9,928.9 300.3,928.9"/><polygon points="304.1,916.3 301.9,920.3 306.3,920.3"/><polygon points="310.2,893.6 308.0,897.6 312.4,897.6"/><polygon points="316.3,830.9 314.1,834.9 318.5,834.9"/><polygon points="322.4,725.0 320.2,729.0 324.6,729.0"/><polygon points="328.5,622.6 326.3,626.6 330.7,626.6"/><polygon points="334.5,602.3 332.3,606.3 336.7,606.3"/><polygon points="340.6,609.3 338.4,613.3 342.8,613.3"/><polygon points="346.7,611.9 344.5,615.9 348.9,615.9"/><polygon points="352.8,606.7 350.6,610.7 355.0,610.7"/><polygon points="358.9,602.3 356.7,606.3 361.1,606.3"/><polygon points="364.9,598.3 362.7,602.3 367.1,602.3"/><polygon points="371.0,596.8 368.8,600.8 373.2,600.8"/><polygon points="377.1,599.8 374.9,603.8 379.3,603.8"/><polygon points="383.2,604.0 381.0,608.0 385.4,608.0"/><polygon points="389.3,606.4 387.1,610.4 391.5,610.4"/><polygon points="395.3,607.8 393.1,611.8 397.5,611.8"/><polygon points="401.4,608.5 399.2,612.5 403.6,612.5"/><polygon points="407.5,607.9 405.3,611.9 409.7,611.9"/><polygon points="413.6,608.4 411.4,612.4 415.8,612.4"/><polygon points="419.7,609.7 417.5,613.7 421.9,613.7"/><polygon points="425.7,612.1 423.5,616.1 427.9,616.1"/><polygon points="431.8,617.1 429.6,621.1 434.0,621.1"/><polygon points="437.9,639.7 435.7,643.7 440.1,643.7"/><polygon points="444.0,696.4 441.8,700.4 446.2,700.4"/><polygon points="450.1,795.0 447.9,799.0 452.3,799.0"/><polygon points="456.1,910.6 453.9,914.6 458.3,914.6"/><polygon points="462.2,943.7 460.0,947.7 464.4,947.7"/><polygon points="468.3,948.3 466.1,952.3 470.5,952.3"/><polygon points="474.4,949.4 472.2,953.4 476.6,953.4"/><polygon points="480.5,954.5 478.3,958.5 482.7,958.5"/><polygon points="486.5,958.9 484.3,962.9 488.7,962.9"/><polygon points="492.6,963.6 490.4,967.6 494.8,967.6"/><polygon points="498.7,968.8 496.5,972.8 500.9,972.8"/></g>
<polyline points="103.5,972.5 205.0,972.5 210.8,970.0 219.5,967.0 226.0,962.0 230.3,955.0 237.9,954.0 243.3,952.0 249.8,950.0 256.3,946.0 261.8,940.0 267.2,933.0 273.7,927.7 280.2,929.0 286.7,931.0 293.2,929.0 298.6,926.0 304.0,918.0 308.3,909.0 312.4,880.0 316.0,840.0 320.0,780.0 323.5,720.0 325.4,690.7 327.3,662.3 331.0,630.0 333.3,623.7 340.0,609.7 346.0,601.7 352.7,599.0 358.7,601.0 364.7,603.0 370.7,604.3 377.3,605.0 382.7,604.3 389.3,604.3 396.0,605.0 402.7,605.0 408.0,605.0 413.3,605.7 420.0,607.0 426.0,610.3 432.0,618.3 436.0,629.0 439.3,641.0 441.3,659.7 443.3,680.0 446.0,720.0 449.0,770.0 451.5,830.0 454.5,890.0 457.0,925.0 461.0,945.0 467.1,950.0 475.2,951.5 481.7,957.5 489.8,963.0 497.9,970.5 501.0,972.5" fill="none" stroke="#f0901e" stroke-width="2.4" stroke-linejoin="round" stroke-linecap="round" />
<g fill="#f0901e"><polygon points="103.5,970.1 101.5,972.5 103.5,974.9 105.5,972.5"/><polygon points="109.6,970.1 107.6,972.5 109.6,974.9 111.6,972.5"/><polygon points="115.7,970.1 113.7,972.5 115.7,974.9 117.7,972.5"/><polygon points="121.7,970.1 119.7,972.5 121.7,974.9 123.7,972.5"/><polygon points="127.8,970.1 125.8,972.5 127.8,974.9 129.8,972.5"/><polygon points="133.9,970.1 131.9,972.5 133.9,974.9 135.9,972.5"/><polygon points="140.0,970.1 138.0,972.5 140.0,974.9 142.0,972.5"/><polygon points="146.1,970.1 144.1,972.5 146.1,974.9 148.1,972.5"/><polygon points="152.1,970.1 150.1,972.5 152.1,974.9 154.1,972.5"/><polygon points="158.2,970.1 156.2,972.5 158.2,974.9 160.2,972.5"/><polygon points="164.3,970.1 162.3,972.5 164.3,974.9 166.3,972.5"/><polygon points="170.4,970.1 168.4,972.5 170.4,974.9 172.4,972.5"/><polygon points="176.5,970.1 174.5,972.5 176.5,974.9 178.5,972.5"/><polygon points="182.5,970.1 180.5,972.5 182.5,974.9 184.5,972.5"/><polygon points="188.6,970.1 186.6,972.5 188.6,974.9 190.6,972.5"/><polygon points="194.7,970.1 192.7,972.5 194.7,974.9 196.7,972.5"/><polygon points="200.8,970.1 198.8,972.5 200.8,974.9 202.8,972.5"/><polygon points="206.9,969.3 204.9,971.7 206.9,974.1 208.9,971.7"/><polygon points="212.9,966.9 210.9,969.3 212.9,971.7 214.9,969.3"/><polygon points="219.0,964.8 217.0,967.2 219.0,969.6 221.0,967.2"/><polygon points="225.1,960.3 223.1,962.7 225.1,965.1 227.1,962.7"/><polygon points="231.2,952.5 229.2,954.9 231.2,957.3 233.2,954.9"/><polygon points="237.3,951.7 235.3,954.1 237.3,956.5 239.3,954.1"/><polygon points="243.3,949.6 241.3,952.0 243.3,954.4 245.3,952.0"/><polygon points="249.4,947.7 247.4,950.1 249.4,952.5 251.4,950.1"/><polygon points="255.5,944.1 253.5,946.5 255.5,948.9 257.5,946.5"/><polygon points="261.6,937.8 259.6,940.2 261.6,942.6 263.6,940.2"/><polygon points="267.7,930.2 265.7,932.6 267.7,935.0 269.7,932.6"/><polygon points="273.7,925.3 271.7,927.7 273.7,930.1 275.7,927.7"/><polygon points="279.8,926.5 277.8,928.9 279.8,931.3 281.8,928.9"/><polygon points="285.9,928.4 283.9,930.8 285.9,933.2 287.9,930.8"/><polygon points="292.0,927.0 290.0,929.4 292.0,931.8 294.0,929.4"/><polygon points="298.1,923.9 296.1,926.3 298.1,928.7 300.1,926.3"/><polygon points="304.1,915.3 302.1,917.7 304.1,920.1 306.1,917.7"/><polygon points="310.2,893.0 308.2,895.4 310.2,897.8 312.2,895.4"/><polygon points="316.3,833.1 314.3,835.5 316.3,837.9 318.3,835.5"/><polygon points="322.4,736.8 320.4,739.2 322.4,741.6 324.4,739.2"/><polygon points="328.5,649.8 326.5,652.2 328.5,654.6 330.5,652.2"/><polygon points="334.5,618.7 332.5,621.1 334.5,623.5 336.5,621.1"/><polygon points="340.6,606.5 338.6,608.9 340.6,611.3 342.6,608.9"/><polygon points="346.7,599.0 344.7,601.4 346.7,603.8 348.7,601.4"/><polygon points="352.8,596.6 350.8,599.0 352.8,601.4 354.8,599.0"/><polygon points="358.9,598.7 356.9,601.1 358.9,603.5 360.9,601.1"/><polygon points="364.9,600.7 362.9,603.1 364.9,605.5 366.9,603.1"/><polygon points="371.0,601.9 369.0,604.3 371.0,606.7 373.0,604.3"/><polygon points="377.1,602.6 375.1,605.0 377.1,607.4 379.1,605.0"/><polygon points="383.2,601.9 381.2,604.3 383.2,606.7 385.2,604.3"/><polygon points="389.3,601.9 387.3,604.3 389.3,606.7 391.3,604.3"/><polygon points="395.3,602.5 393.3,604.9 395.3,607.3 397.3,604.9"/><polygon points="401.4,602.6 399.4,605.0 401.4,607.4 403.4,605.0"/><polygon points="407.5,602.6 405.5,605.0 407.5,607.4 409.5,605.0"/><polygon points="413.6,603.4 411.6,605.8 413.6,608.2 415.6,605.8"/><polygon points="419.7,604.5 417.7,606.9 419.7,609.3 421.7,606.9"/><polygon points="425.7,607.8 423.7,610.2 425.7,612.6 427.7,610.2"/><polygon points="431.8,615.7 429.8,618.1 431.8,620.5 433.8,618.1"/><polygon points="437.9,633.5 435.9,635.9 437.9,638.3 439.9,635.9"/><polygon points="444.0,687.7 442.0,690.1 444.0,692.5 446.0,690.1"/><polygon points="450.1,793.0 448.1,795.4 450.1,797.8 452.1,795.4"/><polygon points="456.1,910.6 454.1,913.0 456.1,915.4 458.1,913.0"/><polygon points="462.2,943.6 460.2,946.0 462.2,948.4 464.2,946.0"/><polygon points="468.3,947.8 466.3,950.2 468.3,952.6 470.3,950.2"/><polygon points="474.4,948.9 472.4,951.3 474.4,953.7 476.4,951.3"/><polygon points="480.5,954.0 478.5,956.4 480.5,958.8 482.5,956.4"/><polygon points="486.5,958.4 484.5,960.8 486.5,963.2 488.5,960.8"/><polygon points="492.6,963.2 490.6,965.6 492.6,968.0 494.6,965.6"/><polygon points="498.7,968.6 496.7,971.0 498.7,973.4 500.7,971.0"/></g>
<polyline points="103.4,941.6 113.8,933.0 120.6,912.4 127.5,876.3 134.4,845.3 139.6,807.5 146.4,774.8 151.6,755.9 158.5,733.5 163.6,706.0 168.8,678.5 174.0,669.9 182.6,661.3 191.2,663.0 194.6,663.0 199.8,647.5 205.7,637.2 212.2,629.3 218.6,632.2 224.4,636.5 230.1,645.1 237.3,650.1 243.0,651.6 249.4,655.9 255.2,664.4 260.9,673.0 267.3,680.2 273.8,680.2 279.5,677.3 286.0,684.5 291.7,694.5 298.9,700.3 304.6,701.0 309.6,703.9 313.2,716.0 316.1,726.1 319.9,776.6 322.8,813.9 325.4,888.5 327.3,944.5 332.9,970.6 336.0,972.5 501.0,972.5" fill="none" stroke="#b01414" stroke-width="2.5" stroke-linejoin="round" stroke-linecap="round" />
<g fill="#b01414"><polygon points="101.0,941.6 105.0,939.4 105.0,943.8"/><polygon points="107.1,936.6 111.1,934.4 111.1,938.8"/><polygon points="113.2,927.7 117.2,925.5 117.2,929.9"/><polygon points="119.2,907.0 123.2,904.8 123.2,909.2"/><polygon points="125.3,875.3 129.3,873.1 129.3,877.5"/><polygon points="131.4,848.0 135.4,845.8 135.4,850.2"/><polygon points="137.5,806.2 141.5,804.0 141.5,808.4"/><polygon points="143.6,776.9 147.6,774.7 147.6,779.1"/><polygon points="149.6,754.5 153.6,752.3 153.6,756.7"/><polygon points="155.7,734.7 159.7,732.5 159.7,736.9"/><polygon points="161.8,702.8 165.8,700.6 165.8,705.0"/><polygon points="167.9,676.1 171.9,673.9 171.9,678.3"/><polygon points="174.0,667.5 178.0,665.3 178.0,669.7"/><polygon points="180.0,661.5 184.0,659.3 184.0,663.7"/><polygon points="186.1,662.5 190.1,660.3 190.1,664.7"/><polygon points="192.2,663.0 196.2,660.8 196.2,665.2"/><polygon points="198.3,646.0 202.3,643.8 202.3,648.2"/><polygon points="204.4,635.9 208.4,633.7 208.4,638.1"/><polygon points="210.4,629.6 214.4,627.4 214.4,631.8"/><polygon points="216.5,632.4 220.5,630.2 220.5,634.6"/><polygon points="222.6,637.4 226.6,635.2 226.6,639.6"/><polygon points="228.7,645.8 232.7,643.6 232.7,648.0"/><polygon points="234.8,650.0 238.8,647.8 238.8,652.2"/><polygon points="240.8,651.8 244.8,649.6 244.8,654.0"/><polygon points="246.9,655.8 250.9,653.6 250.9,658.0"/><polygon points="253.0,664.7 257.0,662.5 257.0,666.9"/><polygon points="259.1,673.7 263.1,671.5 263.1,675.9"/><polygon points="265.2,680.2 269.2,678.0 269.2,682.4"/><polygon points="271.2,680.2 275.2,678.0 275.2,682.4"/><polygon points="277.3,677.5 281.3,675.3 281.3,679.7"/><polygon points="283.4,684.3 287.4,682.1 287.4,686.5"/><polygon points="289.5,694.6 293.5,692.4 293.5,696.8"/><polygon points="295.6,699.5 299.6,697.3 299.6,701.7"/><polygon points="301.6,700.9 305.6,698.7 305.6,703.1"/><polygon points="307.7,705.6 311.7,703.4 311.7,707.8"/><polygon points="313.8,727.4 317.8,725.2 317.8,729.6"/><polygon points="319.9,807.2 323.9,805.0 323.9,809.4"/><polygon points="326.0,949.4 330.0,947.2 330.0,951.6"/><polygon points="332.0,971.5 336.0,969.3 336.0,973.7"/><polygon points="338.1,972.5 342.1,970.3 342.1,974.7"/><polygon points="344.2,972.5 348.2,970.3 348.2,974.7"/><polygon points="350.3,972.5 354.3,970.3 354.3,974.7"/><polygon points="356.4,972.5 360.4,970.3 360.4,974.7"/><polygon points="362.4,972.5 366.4,970.3 366.4,974.7"/><polygon points="368.5,972.5 372.5,970.3 372.5,974.7"/><polygon points="374.6,972.5 378.6,970.3 378.6,974.7"/><polygon points="380.7,972.5 384.7,970.3 384.7,974.7"/><polygon points="386.8,972.5 390.8,970.3 390.8,974.7"/><polygon points="392.8,972.5 396.8,970.3 396.8,974.7"/><polygon points="398.9,972.5 402.9,970.3 402.9,974.7"/><polygon points="405.0,972.5 409.0,970.3 409.0,974.7"/><polygon points="411.1,972.5 415.1,970.3 415.1,974.7"/><polygon points="417.2,972.5 421.2,970.3 421.2,974.7"/><polygon points="423.2,972.5 427.2,970.3 427.2,974.7"/><polygon points="429.3,972.5 433.3,970.3 433.3,974.7"/><polygon points="435.4,972.5 439.4,970.3 439.4,974.7"/><polygon points="441.5,972.5 445.5,970.3 445.5,974.7"/><polygon points="447.6,972.5 451.6,970.3 451.6,974.7"/><polygon points="453.6,972.5 457.6,970.3 457.6,974.7"/><polygon points="459.7,972.5 463.7,970.3 463.7,974.7"/><polygon points="465.8,972.5 469.8,970.3 469.8,974.7"/><polygon points="471.9,972.5 475.9,970.3 475.9,974.7"/><polygon points="478.0,972.5 482.0,970.3 482.0,974.7"/><polygon points="484.0,972.5 488.0,970.3 488.0,974.7"/><polygon points="490.1,972.5 494.1,970.3 494.1,974.7"/><polygon points="496.2,972.5 500.2,970.3 500.2,974.7"/></g>
<polyline points="103.5,972.5 205.0,972.5 210.8,970.5 219.5,968.3 226.0,964.5 230.3,958.0 237.9,956.9 243.3,954.8 249.8,953.1 256.3,949.3 261.8,943.4 267.2,936.9 273.7,934.2 280.2,934.2 286.7,935.8 293.2,934.7 298.6,931.5 304.0,923.3 308.3,915.8 311.6,907.6 314.3,889.0 318.0,851.2 321.7,806.4 324.3,757.9 327.3,698.2 332.7,675.7 340.0,655.7 346.7,626.3 353.3,609.0 358.7,615.7 364.7,627.7 370.7,636.3 377.3,639.0 383.3,636.3 389.3,630.3 396.0,625.7 402.7,622.3 408.0,622.3 414.7,624.3 421.3,627.7 426.7,631.0 432.0,637.0 436.0,647.7 438.7,659.7 441.3,677.0 442.7,705.0 446.0,747.0 449.9,799.0 452.5,860.8 456.4,919.2 460.6,945.2 467.1,951.7 475.2,953.3 481.7,959.8 489.8,964.7 497.9,971.2 501.0,972.5" fill="none" stroke="#b01414" stroke-width="2.5" stroke-linejoin="round" stroke-linecap="round" />
<g fill="#b01414"><polygon points="101.1,972.5 105.1,970.3 105.1,974.7"/><polygon points="107.2,972.5 111.2,970.3 111.2,974.7"/><polygon points="113.3,972.5 117.3,970.3 117.3,974.7"/><polygon points="119.3,972.5 123.3,970.3 123.3,974.7"/><polygon points="125.4,972.5 129.4,970.3 129.4,974.7"/><polygon points="131.5,972.5 135.5,970.3 135.5,974.7"/><polygon points="137.6,972.5 141.6,970.3 141.6,974.7"/><polygon points="143.7,972.5 147.7,970.3 147.7,974.7"/><polygon points="149.7,972.5 153.7,970.3 153.7,974.7"/><polygon points="155.8,972.5 159.8,970.3 159.8,974.7"/><polygon points="161.9,972.5 165.9,970.3 165.9,974.7"/><polygon points="168.0,972.5 172.0,970.3 172.0,974.7"/><polygon points="174.1,972.5 178.1,970.3 178.1,974.7"/><polygon points="180.1,972.5 184.1,970.3 184.1,974.7"/><polygon points="186.2,972.5 190.2,970.3 190.2,974.7"/><polygon points="192.3,972.5 196.3,970.3 196.3,974.7"/><polygon points="198.4,972.5 202.4,970.3 202.4,974.7"/><polygon points="204.5,971.9 208.5,969.7 208.5,974.1"/><polygon points="210.5,970.0 214.5,967.8 214.5,972.2"/><polygon points="216.6,968.4 220.6,966.2 220.6,970.6"/><polygon points="222.7,965.0 226.7,962.8 226.7,967.2"/><polygon points="228.8,957.9 232.8,955.7 232.8,960.1"/><polygon points="234.9,957.0 238.9,954.8 238.9,959.2"/><polygon points="240.9,954.8 244.9,952.6 244.9,957.0"/><polygon points="247.0,953.2 251.0,951.0 251.0,955.4"/><polygon points="253.1,949.8 257.1,947.6 257.1,952.0"/><polygon points="259.2,943.6 263.2,941.4 263.2,945.8"/><polygon points="265.3,936.7 269.3,934.5 269.3,938.9"/><polygon points="271.3,934.2 275.3,932.0 275.3,936.4"/><polygon points="277.4,934.2 281.4,932.0 281.4,936.4"/><polygon points="283.5,935.6 287.5,933.4 287.5,937.8"/><polygon points="289.6,934.9 293.6,932.7 293.6,937.1"/><polygon points="295.7,931.8 299.7,929.6 299.7,934.0"/><polygon points="301.7,923.1 305.7,920.9 305.7,925.3"/><polygon points="307.8,911.0 311.8,908.8 311.8,913.2"/><polygon points="313.9,868.6 317.9,866.4 317.9,870.8"/><polygon points="320.0,793.7 324.0,791.5 324.0,795.9"/><polygon points="326.1,693.4 330.1,691.2 330.1,695.6"/><polygon points="332.1,670.7 336.1,668.5 336.1,672.9"/><polygon points="338.2,653.0 342.2,650.8 342.2,655.2"/><polygon points="344.3,626.3 348.3,624.1 348.3,628.5"/><polygon points="350.4,610.4 354.4,608.2 354.4,612.6"/><polygon points="356.5,616.0 360.5,613.8 360.5,618.2"/><polygon points="362.5,628.0 366.5,625.8 366.5,630.2"/><polygon points="368.6,636.4 372.6,634.2 372.6,638.6"/><polygon points="374.7,638.9 378.7,636.7 378.7,641.1"/><polygon points="380.8,636.4 384.8,634.2 384.8,638.6"/><polygon points="386.9,630.3 390.9,628.1 390.9,632.5"/><polygon points="392.9,626.2 396.9,624.0 396.9,628.4"/><polygon points="399.0,622.9 403.0,620.7 403.0,625.1"/><polygon points="405.1,622.3 409.1,620.1 409.1,624.5"/><polygon points="411.2,624.0 415.2,621.8 415.2,626.2"/><polygon points="417.3,626.9 421.3,624.7 421.3,629.1"/><polygon points="423.3,630.4 427.3,628.2 427.3,632.6"/><polygon points="429.4,636.8 433.4,634.6 433.4,639.0"/><polygon points="435.5,656.1 439.5,653.9 439.5,658.3"/><polygon points="441.6,721.3 445.6,719.1 445.6,723.5"/><polygon points="447.7,802.8 451.7,800.6 451.7,805.0"/><polygon points="453.7,915.3 457.7,913.1 457.7,917.5"/><polygon points="459.8,946.8 463.8,944.6 463.8,949.0"/><polygon points="465.9,951.9 469.9,949.7 469.9,954.1"/><polygon points="472.0,953.1 476.0,950.9 476.0,955.3"/><polygon points="478.1,958.6 482.1,956.4 482.1,960.8"/><polygon points="484.1,962.7 488.1,960.5 488.1,964.9"/><polygon points="490.2,967.0 494.2,964.8 494.2,969.2"/><polygon points="496.3,971.5 500.3,969.3 500.3,973.7"/></g>
<path d="M100,935.0 h7 M103.5,897.5 h6 M100,860.0 h7 M103.5,822.5 h6 M100,785.0 h7 M103.5,747.5 h6 M100,710.0 h7 M103.5,672.5 h6 M100,635.0 h7 M103.5,597.5 h6 M164.3,972.5 v-7 M225.1,972.5 v-3.5 M285.9,972.5 v-7 M346.7,972.5 v-3.5 M407.5,972.5 v-7 M468.3,972.5 v-3.5 M529.1,972.5 v-7 M589.9,972.5 v-3.5" stroke="#000" stroke-width="2" fill="none"/>
<text x="94" y="979.5" font-size="27" text-anchor="end" font-weight="bold" style='font-family:"Liberation Serif", serif' fill="#000" >0</text>
<text x="94" y="904.5" font-size="27" text-anchor="end" font-weight="bold" style='font-family:"Liberation Serif", serif' fill="#000" >20</text>
<text x="94" y="829.5" font-size="27" text-anchor="end" font-weight="bold" style='font-family:"Liberation Serif", serif' fill="#000" >40</text>
<text x="94" y="754.5" font-size="27" text-anchor="end" font-weight="bold" style='font-family:"Liberation Serif", serif' fill="#000" >60</text>
<text x="94" y="679.5" font-size="27" text-anchor="end" font-weight="bold" style='font-family:"Liberation Serif", serif' fill="#000" >80</text>
<text x="94" y="604.5" font-size="27" text-anchor="end" font-weight="bold" style='font-family:"Liberation Serif", serif' fill="#000" >100</text>
<text x="164.3" y="1000.5" font-size="27" text-anchor="middle" font-weight="bold" style='font-family:"Liberation Serif", serif' fill="#000" >0.4</text>
<text x="285.9" y="1000.5" font-size="27" text-anchor="middle" font-weight="bold" style='font-family:"Liberation Serif", serif' fill="#000" >0.6</text>
<text x="407.5" y="1000.5" font-size="27" text-anchor="middle" font-weight="bold" style='font-family:"Liberation Serif", serif' fill="#000" >0.8</text>
<text x="529.0999999999999" y="1000.5" font-size="27" text-anchor="middle" font-weight="bold" style='font-family:"Liberation Serif", serif' fill="#000" >1.0</text>
<text x="242.7" y="1033" font-size="27" text-anchor="start" font-weight="bold" style='font-family:"Liberation Sans", sans-serif' fill="#000" textLength="206.6" lengthAdjust="spacingAndGlyphs">Wavelength (µm)</text>
<g transform="translate(42.3,985.5) rotate(-90)"><text x="0" y="0" font-size="26" font-weight="bold" style='font-family:"Liberation Sans", sans-serif' textLength="346" lengthAdjust="spacingAndGlyphs">External quantum efficiency</text><text x="359.4" y="0" font-size="24" font-weight="normal" style='font-family:"Liberation Sans", sans-serif' fill="#444">(</text><text x="372.7" y="0" font-size="25" font-weight="bold" style='font-family:"Liberation Sans", sans-serif'>%</text><text x="398.7" y="0" font-size="24" font-weight="normal" style='font-family:"Liberation Sans", sans-serif' fill="#444">)</text></g>
<polyline points="454.0,593.0 491.3,593.0" fill="none" stroke="#e020e0" stroke-width="2.4" stroke-linejoin="round" stroke-linecap="round" />
<g fill="#e020e0"><rect x="470.7" y="590.4" width="5.2" height="5.2"/></g>
<text x="496" y="598.8" font-size="16" text-anchor="start" font-weight="bold" style='font-family:"Liberation Sans", sans-serif' fill="#000" textLength="90" lengthAdjust="spacingAndGlyphs">Non particle</text>
<polyline points="454.0,613.0 491.3,613.0" fill="none" stroke="#7a1fe6" stroke-width="1.6" stroke-linejoin="round" stroke-linecap="round" stroke-dasharray="1.2,2" />
<g fill="#7a1fe6"><circle cx="473.3" cy="613.0" r="2.6"/></g>
<text x="496" y="618.8" font-size="16" text-anchor="start" font-weight="bold" style='font-family:"Liberation Sans", sans-serif' fill="#000" textLength="65.5" lengthAdjust="spacingAndGlyphs">R=10 nm</text>
<polyline points="454.0,633.0 491.3,633.0" fill="none" stroke="#1f9be0" stroke-width="1.6" stroke-linejoin="round" stroke-linecap="round" stroke-dasharray="1.2,2" />
<g fill="#1f9be0"><polygon points="473.3,629.9 470.4,635.1 476.2,635.1"/></g>
<text x="496" y="638.8" font-size="16" text-anchor="start" font-weight="bold" style='font-family:"Liberation Sans", sans-serif' fill="#000" textLength="65.5" lengthAdjust="spacingAndGlyphs">R=30 nm</text>
<polyline points="454.0,653.0 491.3,653.0" fill="none" stroke="#a6f04a" stroke-width="2.4" stroke-linejoin="round" stroke-linecap="round" />
<g fill="#a6f04a"><polygon points="473.3,649.9 470.4,655.1 476.2,655.1"/></g>
<text x="496" y="658.8" font-size="16" text-anchor="start" font-weight="bold" style='font-family:"Liberation Sans", sans-serif' fill="#000" textLength="65.5" lengthAdjust="spacingAndGlyphs">R=50 nm</text>
<polyline points="454.0,673.0 491.3,673.0" fill="none" stroke="#f0901e" stroke-width="2.4" stroke-linejoin="round" stroke-linecap="round" />
<g fill="#f0901e"><polygon points="473.3,669.9 470.7,673.0 473.3,676.1 475.9,673.0"/></g>
<text x="496" y="678.8" font-size="16" text-anchor="start" font-weight="bold" style='font-family:"Liberation Sans", sans-serif' fill="#000" textLength="65.5" lengthAdjust="spacingAndGlyphs">R=70 nm</text>
<polyline points="454.0,693.0 491.3,693.0" fill="none" stroke="#b01414" stroke-width="2.4" stroke-linejoin="round" stroke-linecap="round" />
<g fill="#b01414"><polygon points="470.2,693.0 475.4,690.1 475.4,695.9"/></g>
<text x="496" y="698.8" font-size="16" text-anchor="start" font-weight="bold" style='font-family:"Liberation Sans", sans-serif' fill="#000" textLength="65.5" lengthAdjust="spacingAndGlyphs">R=90 nm</text>
<text x="623.5" y="557.5" font-size="31" text-anchor="start" font-weight="bold" style='font-family:"Liberation Sans", sans-serif' fill="#000" >d</text>
<rect x="697" y="578" width="487.5" height="393" fill="none" stroke="#000" stroke-width="2.2"/>
<polyline points="697.0,968.6 720.0,969.6 760.0,970.3 850.0,970.6 1146.6,970.8" fill="none" stroke="#9a1fd0" stroke-width="3.2" stroke-linejoin="round" stroke-linecap="round" />
<g fill="#9a1fd0"><circle cx="697.0" cy="968.6" r="2.4"/><circle cx="704.5" cy="968.9" r="2.4"/><circle cx="712.0" cy="969.3" r="2.4"/><circle cx="719.5" cy="969.6" r="2.4"/><circle cx="727.0" cy="969.7" r="2.4"/><circle cx="734.5" cy="969.9" r="2.4"/><circle cx="742.0" cy="970.0" r="2.4"/><circle cx="749.5" cy="970.1" r="2.4"/><circle cx="757.0" cy="970.2" r="2.4"/><circle cx="764.5" cy="970.3" r="2.4"/><circle cx="772.0" cy="970.3" r="2.4"/><circle cx="779.4" cy="970.4" r="2.4"/><circle cx="786.9" cy="970.4" r="2.4"/><circle cx="794.4" cy="970.4" r="2.4"/><circle cx="801.9" cy="970.4" r="2.4"/><circle cx="809.4" cy="970.5" r="2.4"/><circle cx="816.9" cy="970.5" r="2.4"/><circle cx="824.4" cy="970.5" r="2.4"/><circle cx="831.9" cy="970.5" r="2.4"/><circle cx="839.4" cy="970.6" r="2.4"/><circle cx="846.9" cy="970.6" r="2.4"/><circle cx="854.4" cy="970.6" r="2.4"/><circle cx="861.9" cy="970.6" r="2.4"/><circle cx="869.4" cy="970.6" r="2.4"/><circle cx="876.9" cy="970.6" r="2.4"/><circle cx="884.4" cy="970.6" r="2.4"/><circle cx="891.9" cy="970.6" r="2.4"/><circle cx="899.4" cy="970.6" r="2.4"/><circle cx="906.9" cy="970.6" r="2.4"/><circle cx="914.4" cy="970.6" r="2.4"/><circle cx="921.9" cy="970.6" r="2.4"/><circle cx="929.3" cy="970.7" r="2.4"/><circle cx="936.8" cy="970.7" r="2.4"/><circle cx="944.3" cy="970.7" r="2.4"/><circle cx="951.8" cy="970.7" r="2.4"/><circle cx="959.3" cy="970.7" r="2.4"/><circle cx="966.8" cy="970.7" r="2.4"/><circle cx="974.3" cy="970.7" r="2.4"/><circle cx="981.8" cy="970.7" r="2.4"/><circle cx="989.3" cy="970.7" r="2.4"/><circle cx="996.8" cy="970.7" r="2.4"/><circle cx="1004.3" cy="970.7" r="2.4"/><circle cx="1011.8" cy="970.7" r="2.4"/><circle cx="1019.3" cy="970.7" r="2.4"/><circle cx="1026.8" cy="970.7" r="2.4"/><circle cx="1034.3" cy="970.7" r="2.4"/><circle cx="1041.8" cy="970.7" r="2.4"/><circle cx="1049.3" cy="970.7" r="2.4"/><circle cx="1056.8" cy="970.7" r="2.4"/><circle cx="1064.3" cy="970.7" r="2.4"/><circle cx="1071.7" cy="970.7" r="2.4"/><circle cx="1079.2" cy="970.8" r="2.4"/><circle cx="1086.7" cy="970.8" r="2.4"/><circle cx="1094.2" cy="970.8" r="2.4"/><circle cx="1101.7" cy="970.8" r="2.4"/><circle cx="1109.2" cy="970.8" r="2.4"/><circle cx="1116.7" cy="970.8" r="2.4"/><circle cx="1124.2" cy="970.8" r="2.4"/><circle cx="1131.7" cy="970.8" r="2.4"/><circle cx="1139.2" cy="970.8" r="2.4"/></g>
<path d="M697.0,622.0 C698.2,626.5 702.0,639.8 704.5,648.7 C707.0,657.6 709.7,665.9 712.2,675.4 C714.8,684.9 717.3,695.2 719.8,706.0 C722.3,716.8 725.2,730.0 727.4,740.3 C729.6,750.6 730.7,758.1 733.2,768.0 C735.8,777.9 740.2,790.8 742.7,799.5 C745.2,808.2 746.2,812.7 748.4,820.0 C750.6,827.3 753.5,836.3 756.1,843.4 C758.7,850.5 761.2,856.7 763.7,862.4 C766.2,868.1 768.8,872.9 771.3,877.7 C773.8,882.5 776.5,887.0 779.0,891.1 C781.5,895.2 783.8,898.7 786.6,902.5 C789.5,906.3 792.9,910.5 796.1,914.0 C799.3,917.5 802.2,920.3 805.7,923.5 C809.2,926.7 813.3,930.1 817.1,933.0 C820.9,935.9 824.8,938.5 828.6,940.7 C832.4,942.9 835.5,944.5 840.0,946.4 C844.5,948.3 850.2,950.5 855.3,952.1 C860.4,953.7 865.5,954.9 870.6,956.0 C875.7,957.1 877.9,957.5 885.8,958.6 C893.7,959.7 906.4,961.3 918.2,962.5 C930.0,963.7 943.7,964.9 956.4,965.8 C969.1,966.7 981.9,967.2 994.6,967.7 C1007.3,968.2 1016.9,968.3 1032.8,968.6 C1048.7,968.9 1071.0,969.1 1090.0,969.3 C1109.0,969.5 1137.2,969.5 1146.6,969.6" fill="none" stroke="#2a1ad8" stroke-width="2.5"/>
<g fill="#2a1ad8"><circle cx="697.0" cy="622.0" r="2.6"/><circle cx="704.5" cy="648.7" r="2.6"/><circle cx="712.0" cy="674.7" r="2.6"/><circle cx="719.5" cy="704.7" r="2.6"/><circle cx="727.0" cy="738.4" r="2.6"/><circle cx="734.5" cy="772.2" r="2.6"/><circle cx="742.0" cy="797.1" r="2.6"/><circle cx="749.5" cy="823.2" r="2.6"/><circle cx="757.0" cy="845.5" r="2.6"/><circle cx="764.5" cy="863.9" r="2.6"/><circle cx="772.0" cy="878.8" r="2.6"/><circle cx="779.4" cy="891.8" r="2.6"/><circle cx="786.9" cy="902.9" r="2.6"/><circle cx="794.4" cy="912.0" r="2.6"/><circle cx="801.9" cy="919.8" r="2.6"/><circle cx="809.4" cy="926.6" r="2.6"/><circle cx="816.9" cy="932.9" r="2.6"/><circle cx="824.4" cy="937.9" r="2.6"/><circle cx="831.9" cy="942.4" r="2.6"/><circle cx="839.4" cy="946.1" r="2.6"/><circle cx="846.9" cy="949.0" r="2.6"/><circle cx="854.4" cy="951.8" r="2.6"/><circle cx="861.9" cy="953.8" r="2.6"/><circle cx="869.4" cy="955.7" r="2.6"/><circle cx="876.9" cy="957.1" r="2.6"/><circle cx="884.4" cy="958.4" r="2.6"/><circle cx="891.9" cy="959.3" r="2.6"/><circle cx="899.4" cy="960.2" r="2.6"/><circle cx="906.9" cy="961.1" r="2.6"/><circle cx="914.4" cy="962.0" r="2.6"/><circle cx="921.9" cy="962.8" r="2.6"/><circle cx="929.3" cy="963.5" r="2.6"/><circle cx="936.8" cy="964.1" r="2.6"/><circle cx="944.3" cy="964.8" r="2.6"/><circle cx="951.8" cy="965.4" r="2.6"/><circle cx="959.3" cy="965.9" r="2.6"/><circle cx="966.8" cy="966.3" r="2.6"/><circle cx="974.3" cy="966.7" r="2.6"/><circle cx="981.8" cy="967.1" r="2.6"/><circle cx="989.3" cy="967.4" r="2.6"/><circle cx="996.8" cy="967.8" r="2.6"/><circle cx="1004.3" cy="967.9" r="2.6"/><circle cx="1011.8" cy="968.1" r="2.6"/><circle cx="1019.3" cy="968.3" r="2.6"/><circle cx="1026.8" cy="968.5" r="2.6"/><circle cx="1034.3" cy="968.6" r="2.6"/><circle cx="1041.8" cy="968.7" r="2.6"/><circle cx="1049.3" cy="968.8" r="2.6"/><circle cx="1056.8" cy="968.9" r="2.6"/><circle cx="1064.3" cy="969.0" r="2.6"/><circle cx="1071.7" cy="969.1" r="2.6"/><circle cx="1079.2" cy="969.2" r="2.6"/><circle cx="1086.7" cy="969.3" r="2.6"/><circle cx="1094.2" cy="969.3" r="2.6"/><circle cx="1101.7" cy="969.4" r="2.6"/><circle cx="1109.2" cy="969.4" r="2.6"/><circle cx="1116.7" cy="969.4" r="2.6"/><circle cx="1124.2" cy="969.5" r="2.6"/><circle cx="1131.7" cy="969.5" r="2.6"/><circle cx="1139.2" cy="969.6" r="2.6"/></g>
<path d="M697.0,689.7 C698.9,689.2 704.6,688.8 708.3,687.0 C712.0,685.2 715.9,682.2 719.0,679.0 C722.1,675.8 724.3,671.9 727.0,667.7 C729.7,663.5 732.5,658.0 735.0,653.7 C737.5,649.4 739.2,645.9 741.7,641.7 C744.2,637.5 747.0,632.3 749.7,628.3 C752.4,624.3 755.3,620.6 757.7,617.7 C760.1,614.8 762.0,612.8 764.3,611.0 C766.6,609.2 769.2,607.8 771.7,607.0 C774.2,606.2 776.5,605.6 779.0,606.3 C781.5,607.0 784.5,608.9 787.0,611.0 C789.5,613.1 791.2,615.7 793.7,619.0 C796.2,622.3 799.0,626.3 801.7,631.0 C804.4,635.7 807.0,641.5 809.7,647.0 C812.4,652.5 815.0,658.3 817.7,664.3 C820.4,670.3 823.3,677.0 825.7,683.0 C828.1,689.0 829.9,693.5 832.3,700.0 C834.7,706.5 836.8,713.4 840.0,722.0 C843.2,730.6 847.7,742.1 851.5,751.8 C855.3,761.5 859.1,771.2 862.9,780.4 C866.7,789.6 870.6,799.1 874.4,807.1 C878.2,815.1 882.9,822.7 885.8,828.1 C888.6,833.5 888.6,833.9 891.5,839.7 C894.4,845.5 898.4,855.1 902.9,862.7 C907.4,870.4 913.1,878.9 918.2,885.6 C923.3,892.3 928.4,897.7 933.5,902.8 C938.6,907.9 943.7,912.3 948.8,916.1 C953.9,919.9 958.9,922.8 964.0,925.7 C969.1,928.6 974.2,931.1 979.3,933.3 C984.4,935.5 988.9,937.1 994.6,939.0 C1000.3,940.9 1007.3,943.2 1013.7,944.8 C1020.1,946.4 1026.4,947.3 1032.8,948.6 C1039.2,949.9 1045.5,951.2 1051.9,952.4 C1058.3,953.5 1064.6,954.7 1071.0,955.5 C1077.4,956.3 1083.7,956.8 1090.1,957.4 C1096.5,958.0 1102.8,958.4 1109.2,958.9 C1115.6,959.4 1122.1,959.8 1128.3,960.1 C1134.5,960.4 1143.5,960.7 1146.6,960.8" fill="none" stroke="#8ee040" stroke-width="2.5"/>
<g fill="#8ee040"><polygon points="697.0,686.7 694.2,691.7 699.8,691.7"/><polygon points="704.5,684.9 701.7,689.9 707.2,689.9"/><polygon points="712.0,681.2 709.2,686.2 714.7,686.2"/><polygon points="719.5,675.3 716.7,680.3 722.2,680.3"/><polygon points="727.0,664.7 724.2,669.7 729.7,669.7"/><polygon points="734.5,651.6 731.7,656.6 737.2,656.6"/><polygon points="742.0,638.2 739.2,643.2 744.7,643.2"/><polygon points="749.5,625.7 746.7,630.7 752.2,630.7"/><polygon points="757.0,615.7 754.2,620.7 759.7,620.7"/><polygon points="764.5,607.9 761.7,612.9 767.2,612.9"/><polygon points="772.0,604.0 769.2,609.0 774.7,609.0"/><polygon points="779.4,603.6 776.7,608.6 782.2,608.6"/><polygon points="786.9,608.0 784.2,613.0 789.7,613.0"/><polygon points="794.4,617.1 791.7,622.1 797.2,622.1"/><polygon points="801.9,628.5 799.2,633.5 804.7,633.5"/><polygon points="809.4,643.5 806.7,648.5 812.2,648.5"/><polygon points="816.9,659.6 814.2,664.6 819.7,664.6"/><polygon points="824.4,677.0 821.7,682.0 827.2,682.0"/><polygon points="831.9,696.0 829.2,701.0 834.7,701.0"/><polygon points="839.4,717.3 836.7,722.3 842.2,722.3"/><polygon points="846.9,736.9 844.2,741.9 849.7,741.9"/><polygon points="854.4,756.1 851.6,761.1 857.1,761.1"/><polygon points="861.9,774.9 859.1,779.9 864.6,779.9"/><polygon points="869.4,792.5 866.6,797.5 872.1,797.5"/><polygon points="876.9,808.7 874.1,813.7 879.6,813.7"/><polygon points="884.4,822.5 881.6,827.5 887.1,827.5"/><polygon points="891.9,837.4 889.1,842.4 894.6,842.4"/><polygon points="899.4,852.6 896.6,857.6 902.1,857.6"/><polygon points="906.9,865.6 904.1,870.6 909.6,870.6"/><polygon points="914.4,876.8 911.6,881.8 917.1,881.8"/><polygon points="921.9,886.7 919.1,891.7 924.6,891.7"/><polygon points="929.3,895.1 926.6,900.1 932.1,900.1"/><polygon points="936.8,902.7 934.1,907.7 939.6,907.7"/><polygon points="944.3,909.2 941.6,914.2 947.1,914.2"/><polygon points="951.8,915.0 949.1,920.0 954.6,920.0"/><polygon points="959.3,919.7 956.6,924.7 962.1,924.7"/><polygon points="966.8,924.1 964.1,929.1 969.6,929.1"/><polygon points="974.3,927.8 971.6,932.8 977.1,932.8"/><polygon points="981.8,931.2 979.1,936.2 984.6,936.2"/><polygon points="989.3,934.0 986.6,939.0 992.1,939.0"/><polygon points="996.8,936.7 994.1,941.7 999.6,941.7"/><polygon points="1004.3,938.9 1001.5,943.9 1007.0,943.9"/><polygon points="1011.8,941.2 1009.0,946.2 1014.5,946.2"/><polygon points="1019.3,942.9 1016.5,947.9 1022.0,947.9"/><polygon points="1026.8,944.4 1024.0,949.4 1029.5,949.4"/><polygon points="1034.3,945.9 1031.5,950.9 1037.0,950.9"/><polygon points="1041.8,947.4 1039.0,952.4 1044.5,952.4"/><polygon points="1049.3,948.9 1046.5,953.9 1052.0,953.9"/><polygon points="1056.8,950.2 1054.0,955.2 1059.5,955.2"/><polygon points="1064.3,951.4 1061.5,956.4 1067.0,956.4"/><polygon points="1071.7,952.6 1069.0,957.6 1074.5,957.6"/><polygon points="1079.2,953.3 1076.5,958.3 1082.0,958.3"/><polygon points="1086.7,954.1 1084.0,959.1 1089.5,959.1"/><polygon points="1094.2,954.7 1091.5,959.7 1097.0,959.7"/><polygon points="1101.7,955.3 1099.0,960.3 1104.5,960.3"/><polygon points="1109.2,955.9 1106.5,960.9 1112.0,960.9"/><polygon points="1116.7,956.4 1114.0,961.4 1119.5,961.4"/><polygon points="1124.2,956.8 1121.5,961.8 1127.0,961.8"/><polygon points="1131.7,957.2 1129.0,962.2 1134.5,962.2"/><polygon points="1139.2,957.5 1136.5,962.5 1142.0,962.5"/></g>
<path d="M697.0,675.0 C698.0,673.7 700.7,669.5 703.0,667.0 C705.3,664.5 708.3,661.8 711.0,660.3 C713.7,658.8 716.3,657.6 719.0,657.7 C721.7,657.8 724.3,659.2 727.0,661.0 C729.7,662.8 732.3,665.5 735.0,668.3 C737.7,671.1 740.5,675.0 743.0,677.7 C745.5,680.4 747.2,682.3 749.7,684.3 C752.2,686.3 755.3,688.5 757.7,689.7 C760.1,690.9 762.1,691.6 764.3,691.7 C766.5,691.8 768.5,691.1 771.0,690.3 C773.5,689.5 776.3,688.7 779.0,687.0 C781.7,685.3 784.5,682.8 787.0,680.3 C789.5,677.8 791.2,675.1 793.7,672.3 C796.2,669.5 799.3,666.6 801.7,663.7 C804.1,660.8 805.9,658.1 808.3,655.0 C810.7,651.9 813.8,648.2 816.3,645.0 C818.8,641.8 820.5,638.6 823.0,635.7 C825.5,632.8 828.3,630.4 831.0,627.7 C833.7,625.0 836.5,621.9 839.0,619.7 C841.5,617.5 843.2,616.0 845.7,614.3 C848.2,612.6 850.2,610.9 853.7,609.7 C857.2,608.5 862.1,607.1 866.8,607.2 C871.5,607.4 877.9,608.8 882.0,610.6 C886.1,612.4 888.0,614.7 891.5,618.2 C895.0,621.7 898.8,626.5 902.9,631.6 C907.0,636.7 911.8,642.4 916.3,648.8 C920.8,655.2 925.6,662.8 929.7,669.8 C933.8,676.8 937.3,683.8 941.1,690.8 C944.9,697.8 948.8,704.5 952.6,711.8 C956.4,719.1 960.2,727.4 964.0,734.7 C967.8,742.0 971.7,748.7 975.5,755.7 C979.3,762.7 983.2,770.0 987.0,776.7 C990.8,783.4 994.3,789.4 998.4,795.8 C1002.5,802.2 1007.3,808.8 1011.8,814.9 C1016.3,821.0 1020.4,826.0 1025.2,832.1 C1030.0,838.2 1035.3,845.5 1040.4,851.2 C1045.5,856.9 1050.6,861.7 1055.7,866.5 C1060.8,871.3 1065.9,875.7 1071.0,879.8 C1076.1,883.9 1081.2,887.8 1086.3,891.3 C1091.4,894.8 1096.4,897.9 1101.5,900.9 C1106.6,903.9 1111.7,906.9 1116.8,909.3 C1121.9,911.7 1127.1,913.4 1132.1,915.4 C1137.1,917.4 1144.2,920.1 1146.6,921.1" fill="none" stroke="#f2b024" stroke-width="2.5"/>
<g fill="#f2b024"><polygon points="697.0,678.0 694.2,673.0 699.8,673.0"/><polygon points="704.5,668.7 701.7,663.7 707.2,663.7"/><polygon points="712.0,663.0 709.2,658.0 714.7,658.0"/><polygon points="719.5,660.9 716.7,655.9 722.2,655.9"/><polygon points="727.0,664.0 724.2,659.0 729.7,659.0"/><polygon points="734.5,670.8 731.7,665.8 737.2,665.8"/><polygon points="742.0,679.5 739.2,674.5 744.7,674.5"/><polygon points="749.5,687.1 746.7,682.1 752.2,682.1"/><polygon points="757.0,692.2 754.2,687.2 759.7,687.2"/><polygon points="764.5,694.7 761.7,689.7 767.2,689.7"/><polygon points="772.0,692.9 769.2,687.9 774.7,687.9"/><polygon points="779.4,689.6 776.7,684.6 782.2,684.6"/><polygon points="786.9,683.4 784.2,678.4 789.7,678.4"/><polygon points="794.4,674.5 791.7,669.5 797.2,669.5"/><polygon points="801.9,666.4 799.2,661.4 804.7,661.4"/><polygon points="809.4,656.6 806.7,651.6 812.2,651.6"/><polygon points="816.9,647.1 814.2,642.1 819.7,642.1"/><polygon points="824.4,637.3 821.7,632.3 827.2,632.3"/><polygon points="831.9,629.8 829.2,624.8 834.7,624.8"/><polygon points="839.4,622.4 836.7,617.4 842.2,617.4"/><polygon points="846.9,616.6 844.2,611.6 849.7,611.6"/><polygon points="854.4,612.6 851.6,607.6 857.1,607.6"/><polygon points="861.9,611.1 859.1,606.1 864.6,606.1"/><polygon points="869.4,610.8 866.6,605.8 872.1,605.8"/><polygon points="876.9,612.5 874.1,607.5 879.6,607.5"/><polygon points="884.4,615.5 881.6,610.5 887.1,610.5"/><polygon points="891.9,621.6 889.1,616.6 894.6,616.6"/><polygon points="899.4,630.4 896.6,625.4 902.1,625.4"/><polygon points="906.9,639.7 904.1,634.7 909.6,634.7"/><polygon points="914.4,649.3 911.6,644.3 917.1,644.3"/><polygon points="921.9,660.5 919.1,655.5 924.6,655.5"/><polygon points="929.3,672.2 926.6,667.2 932.1,667.2"/><polygon points="936.8,686.0 934.1,681.0 939.6,681.0"/><polygon points="944.3,699.7 941.6,694.7 947.1,694.7"/><polygon points="951.8,713.4 949.1,708.4 954.6,708.4"/><polygon points="959.3,728.3 956.6,723.3 962.1,723.3"/><polygon points="966.8,742.8 964.1,737.8 969.6,737.8"/><polygon points="974.3,756.5 971.6,751.5 977.1,751.5"/><polygon points="981.8,770.2 979.1,765.2 984.6,765.2"/><polygon points="989.3,783.6 986.6,778.6 992.1,778.6"/><polygon points="996.8,796.1 994.1,791.1 999.6,791.1"/><polygon points="1004.3,807.2 1001.5,802.2 1007.0,802.2"/><polygon points="1011.8,817.9 1009.0,812.9 1014.5,812.9"/><polygon points="1019.3,827.5 1016.5,822.5 1022.0,822.5"/><polygon points="1026.8,837.1 1024.0,832.1 1029.5,832.1"/><polygon points="1034.3,846.5 1031.5,841.5 1037.0,841.5"/><polygon points="1041.8,855.6 1039.0,850.6 1044.5,850.6"/><polygon points="1049.3,863.1 1046.5,858.1 1052.0,858.1"/><polygon points="1056.8,870.4 1054.0,865.4 1059.5,865.4"/><polygon points="1064.3,876.9 1061.5,871.9 1067.0,871.9"/><polygon points="1071.7,883.4 1069.0,878.4 1074.5,878.4"/><polygon points="1079.2,889.0 1076.5,884.0 1082.0,884.0"/><polygon points="1086.7,894.6 1084.0,889.6 1089.5,889.6"/><polygon points="1094.2,899.3 1091.5,894.3 1097.0,894.3"/><polygon points="1101.7,904.0 1099.0,899.0 1104.5,899.0"/><polygon points="1109.2,908.1 1106.5,903.1 1112.0,903.1"/><polygon points="1116.7,912.3 1114.0,907.3 1119.5,907.3"/><polygon points="1124.2,915.3 1121.5,910.3 1127.0,910.3"/><polygon points="1131.7,918.2 1129.0,913.2 1134.5,913.2"/><polygon points="1139.2,921.2 1136.5,916.2 1142.0,916.2"/></g>
<path d="M697.0,677.7 C698.2,678.4 701.8,680.2 704.3,681.7 C706.8,683.2 709.8,685.6 712.3,687.0 C714.8,688.4 716.5,690.0 719.0,690.3 C721.5,690.6 724.5,690.1 727.0,689.0 C729.5,687.9 731.2,685.8 733.7,683.7 C736.2,681.6 739.3,678.9 741.7,676.3 C744.1,673.7 745.9,670.7 748.3,668.3 C750.7,665.9 753.6,663.4 756.3,661.7 C759.0,660.0 761.7,659.0 764.3,658.3 C766.9,657.6 769.2,657.2 771.7,657.7 C774.2,658.2 776.5,659.5 779.0,661.0 C781.5,662.5 784.5,665.0 787.0,667.0 C789.5,669.0 791.2,670.8 793.7,673.0 C796.2,675.2 799.0,678.1 801.7,680.3 C804.4,682.5 807.3,684.7 809.7,686.3 C812.1,687.9 813.9,688.8 816.3,689.7 C818.7,690.6 821.8,691.5 824.3,691.7 C826.8,691.9 828.5,691.6 831.0,691.0 C833.5,690.4 836.3,689.4 839.0,688.3 C841.7,687.2 844.5,685.6 847.0,684.3 C849.5,683.0 851.7,681.8 853.7,680.3 C855.7,678.8 856.0,678.1 859.1,675.4 C862.2,672.7 869.0,666.9 872.5,664.0 C876.0,661.1 876.2,662.4 880.0,658.3 C883.8,654.2 890.2,644.6 895.3,639.2 C900.4,633.8 905.5,629.6 910.6,625.8 C915.7,622.0 920.7,619.0 925.8,616.3 C930.9,613.6 936.0,611.3 941.1,609.8 C946.2,608.3 951.3,607.5 956.4,607.5 C961.5,607.5 966.6,608.3 971.7,609.8 C976.8,611.3 981.9,613.3 987.0,616.3 C992.1,619.3 997.1,623.2 1002.2,627.7 C1007.3,632.2 1012.4,637.3 1017.5,643.0 C1022.6,648.7 1027.7,655.4 1032.8,662.1 C1037.9,668.8 1043.0,675.8 1048.1,683.1 C1053.2,690.4 1058.2,698.4 1063.3,706.0 C1068.4,713.6 1073.5,721.7 1078.6,729.0 C1083.7,736.3 1088.8,743.0 1093.9,750.0 C1099.0,757.0 1104.1,764.0 1109.2,771.0 C1114.3,778.0 1118.3,784.5 1124.5,792.0 C1130.7,799.5 1142.9,812.1 1146.6,816.1" fill="none" stroke="#b01818" stroke-width="2.5"/>
<g fill="#b01818"><polygon points="697.0,674.7 694.5,677.7 697.0,680.7 699.5,677.7"/><polygon points="704.5,678.8 702.0,681.8 704.5,684.8 707.0,681.8"/><polygon points="712.0,683.8 709.5,686.8 712.0,689.8 714.5,686.8"/><polygon points="719.5,687.2 717.0,690.2 719.5,693.2 722.0,690.2"/><polygon points="727.0,686.0 724.5,689.0 727.0,692.0 729.5,689.0"/><polygon points="734.5,680.0 732.0,683.0 734.5,686.0 737.0,683.0"/><polygon points="742.0,673.0 739.5,676.0 742.0,679.0 744.5,676.0"/><polygon points="749.5,664.3 747.0,667.3 749.5,670.3 752.0,667.3"/><polygon points="757.0,658.4 754.5,661.4 757.0,664.4 759.5,661.4"/><polygon points="764.5,655.3 762.0,658.3 764.5,661.3 767.0,658.3"/><polygon points="772.0,654.8 769.5,657.8 772.0,660.8 774.5,657.8"/><polygon points="779.4,658.3 776.9,661.3 779.4,664.3 781.9,661.3"/><polygon points="786.9,664.0 784.4,667.0 786.9,670.0 789.4,667.0"/><polygon points="794.4,670.7 791.9,673.7 794.4,676.7 796.9,673.7"/><polygon points="801.9,677.5 799.4,680.5 801.9,683.5 804.4,680.5"/><polygon points="809.4,683.1 806.9,686.1 809.4,689.1 811.9,686.1"/><polygon points="816.9,686.9 814.4,689.9 816.9,692.9 819.4,689.9"/><polygon points="824.4,688.7 821.9,691.7 824.4,694.7 826.9,691.7"/><polygon points="831.9,687.7 829.4,690.7 831.9,693.7 834.4,690.7"/><polygon points="839.4,685.1 836.9,688.1 839.4,691.1 841.9,688.1"/><polygon points="846.9,681.3 844.4,684.3 846.9,687.3 849.4,684.3"/><polygon points="854.4,676.7 851.9,679.7 854.4,682.7 856.9,679.7"/><polygon points="861.9,670.0 859.4,673.0 861.9,676.0 864.4,673.0"/><polygon points="869.4,663.7 866.9,666.7 869.4,669.7 871.9,666.7"/><polygon points="876.9,657.7 874.4,660.7 876.9,663.7 879.4,660.7"/><polygon points="884.4,649.8 881.9,652.8 884.4,655.8 886.9,652.8"/><polygon points="891.9,640.5 889.4,643.5 891.9,646.5 894.4,643.5"/><polygon points="899.4,632.6 896.9,635.6 899.4,638.6 901.9,635.6"/><polygon points="906.9,626.1 904.4,629.1 906.9,632.1 909.4,629.1"/><polygon points="914.4,620.5 911.9,623.5 914.4,626.5 916.9,623.5"/><polygon points="921.9,615.8 919.4,618.8 921.9,621.8 924.4,618.8"/><polygon points="929.3,611.8 926.8,614.8 929.3,617.8 931.8,614.8"/><polygon points="936.8,608.6 934.3,611.6 936.8,614.6 939.3,611.6"/><polygon points="944.3,606.3 941.8,609.3 944.3,612.3 946.8,609.3"/><polygon points="951.8,605.2 949.3,608.2 951.8,611.2 954.3,608.2"/><polygon points="959.3,604.9 956.8,607.9 959.3,610.9 961.8,607.9"/><polygon points="966.8,606.1 964.3,609.1 966.8,612.1 969.3,609.1"/><polygon points="974.3,607.9 971.8,610.9 974.3,613.9 976.8,610.9"/><polygon points="981.8,611.1 979.3,614.1 981.8,617.1 984.3,614.1"/><polygon points="989.3,615.0 986.8,618.0 989.3,621.0 991.8,618.0"/><polygon points="996.8,620.7 994.3,623.7 996.8,626.7 999.3,623.7"/><polygon points="1004.3,626.8 1001.8,629.8 1004.3,632.8 1006.8,629.8"/><polygon points="1011.8,634.3 1009.3,637.3 1011.8,640.3 1014.3,637.3"/><polygon points="1019.3,642.2 1016.8,645.2 1019.3,648.2 1021.8,645.2"/><polygon points="1026.8,651.6 1024.3,654.6 1026.8,657.6 1029.3,654.6"/><polygon points="1034.3,661.1 1031.8,664.1 1034.3,667.1 1036.8,664.1"/><polygon points="1041.8,671.4 1039.3,674.4 1041.8,677.4 1044.3,674.4"/><polygon points="1049.3,681.9 1046.8,684.9 1049.3,687.9 1051.8,684.9"/><polygon points="1056.8,693.1 1054.3,696.1 1056.8,699.1 1059.3,696.1"/><polygon points="1064.3,704.4 1061.8,707.4 1064.3,710.4 1066.8,707.4"/><polygon points="1071.7,715.7 1069.2,718.7 1071.7,721.7 1074.2,718.7"/><polygon points="1079.2,726.9 1076.7,729.9 1079.2,732.9 1081.7,729.9"/><polygon points="1086.7,737.2 1084.2,740.2 1086.7,743.2 1089.2,740.2"/><polygon points="1094.2,747.5 1091.7,750.5 1094.2,753.5 1096.7,750.5"/><polygon points="1101.7,757.7 1099.2,760.7 1101.7,763.7 1104.2,760.7"/><polygon points="1109.2,768.0 1106.7,771.0 1109.2,774.0 1111.7,771.0"/><polygon points="1116.7,778.3 1114.2,781.3 1116.7,784.3 1119.2,781.3"/><polygon points="1124.2,788.6 1121.7,791.6 1124.2,794.6 1126.7,791.6"/><polygon points="1131.7,796.9 1129.2,799.9 1131.7,802.9 1134.2,799.9"/><polygon points="1139.2,805.0 1136.7,808.0 1139.2,811.0 1141.7,808.0"/></g>
<path d="M693.5,924.6 h7 M697,878.2 h6 M693.5,831.8 h7 M697,785.4 h6 M693.5,739.0 h7 M697,692.6 h6 M693.5,646.2 h7 M697,599.8 h6 M734.5,971 v-3.5 M772.0,971 v-6 M809.4,971 v-3.5 M846.9,971 v-6 M884.4,971 v-3.5 M921.9,971 v-6 M959.3,971 v-3.5 M996.8,971 v-6 M1034.3,971 v-3.5 M1071.8,971 v-6 M1109.2,971 v-3.5 M1146.7,971 v-6" stroke="#000" stroke-width="2" fill="none"/>
<text x="689" y="979.3" font-size="27" text-anchor="end" font-weight="bold" style='font-family:"Liberation Serif", serif' fill="#000" >0</text>
<text x="689" y="886.5" font-size="27" text-anchor="end" font-weight="bold" style='font-family:"Liberation Serif", serif' fill="#000" >1</text>
<text x="689" y="793.6999999999999" font-size="27" text-anchor="end" font-weight="bold" style='font-family:"Liberation Serif", serif' fill="#000" >2</text>
<text x="689" y="700.9" font-size="27" text-anchor="end" font-weight="bold" style='font-family:"Liberation Serif", serif' fill="#000" >3</text>
<text x="689" y="608.0999999999999" font-size="27" text-anchor="end" font-weight="bold" style='font-family:"Liberation Serif", serif' fill="#000" >4</text>
<text x="697.0" y="1000.5" font-size="27" text-anchor="middle" font-weight="bold" style='font-family:"Liberation Serif", serif' fill="#000" >0.2</text>
<text x="771.95" y="1000.5" font-size="27" text-anchor="middle" font-weight="bold" style='font-family:"Liberation Serif", serif' fill="#000" >0.3</text>
<text x="846.9" y="1000.5" font-size="27" text-anchor="middle" font-weight="bold" style='font-family:"Liberation Serif", serif' fill="#000" >0.4</text>
<text x="921.85" y="1000.5" font-size="27" text-anchor="middle" font-weight="bold" style='font-family:"Liberation Serif", serif' fill="#000" >0.5</text>
<text x="996.8" y="1000.5" font-size="27" text-anchor="middle" font-weight="bold" style='font-family:"Liberation Serif", serif' fill="#000" >0.6</text>
<text x="1071.75" y="1000.5" font-size="27" text-anchor="middle" font-weight="bold" style='font-family:"Liberation Serif", serif' fill="#000" >0.7</text>
<text x="1146.7" y="1000.5" font-size="27" text-anchor="middle" font-weight="bold" style='font-family:"Liberation Serif", serif' fill="#000" >0.8</text>
<text x="826.3" y="1031" font-size="27" text-anchor="start" font-weight="bold" style='font-family:"Liberation Sans", sans-serif' fill="#000" textLength="206.3" lengthAdjust="spacingAndGlyphs">Wavelength (µm)</text>
<g transform="translate(658,951.5) rotate(-90)"><text x="0" y="0" font-size="26" font-weight="bold" style='font-family:"Liberation Sans", sans-serif' textLength="255" lengthAdjust="spacingAndGlyphs">Scattering efficiency</text><text x="269.6" y="0" font-size="24" font-weight="normal" style='font-family:"Liberation Sans", sans-serif' fill="#444">(</text><text x="283.9" y="0" font-size="24.6" font-weight="bold" style='font-family:"Liberation Sans", sans-serif'>a.u.</text><text x="331.1" y="0" font-size="24" font-weight="normal" style='font-family:"Liberation Sans", sans-serif' fill="#444">)</text></g>
<polyline points="1053.8,589.8 1096.3,589.8" fill="none" stroke="#9a1fd0" stroke-width="2.6" stroke-linejoin="round" stroke-linecap="round" />
<g fill="#9a1fd0"><circle cx="1075.0" cy="589.8" r="3"/></g>
<text x="1101.3" y="595.5999999999999" font-size="16.5" text-anchor="start" font-weight="bold" style='font-family:"Liberation Sans", sans-serif' fill="#000" textLength="73" lengthAdjust="spacingAndGlyphs">R=10 nm</text>
<polyline points="1053.8,612.7 1096.3,612.7" fill="none" stroke="#2a1ad8" stroke-width="2.6" stroke-linejoin="round" stroke-linecap="round" />
<g fill="#2a1ad8"><circle cx="1075.0" cy="612.7" r="3"/></g>
<text x="1101.3" y="618.4999999999999" font-size="16.5" text-anchor="start" font-weight="bold" style='font-family:"Liberation Sans", sans-serif' fill="#000" textLength="73" lengthAdjust="spacingAndGlyphs">R=30 nm</text>
<polyline points="1053.8,635.6 1096.3,635.6" fill="none" stroke="#8ee040" stroke-width="2.6" stroke-linejoin="round" stroke-linecap="round" />
<g fill="#8ee040"><polygon points="1075.0,632.0 1071.7,638.0 1078.3,638.0"/></g>
<text x="1101.3" y="641.3999999999999" font-size="16.5" text-anchor="start" font-weight="bold" style='font-family:"Liberation Sans", sans-serif' fill="#000" textLength="73" lengthAdjust="spacingAndGlyphs">R=50 nm</text>
<polyline points="1053.8,658.5 1096.3,658.5" fill="none" stroke="#f2b024" stroke-width="2.6" stroke-linejoin="round" stroke-linecap="round" />
<g fill="#f2b024"><polygon points="1075.0,662.1 1071.7,656.1 1078.3,656.1"/></g>
<text x="1101.3" y="664.3" font-size="16.5" text-anchor="start" font-weight="bold" style='font-family:"Liberation Sans", sans-serif' fill="#000" textLength="73" lengthAdjust="spacingAndGlyphs">R=70 nm</text>
<polyline points="1053.8,681.4 1096.3,681.4" fill="none" stroke="#b01818" stroke-width="2.6" stroke-linejoin="round" stroke-linecap="round" />
<g fill="#b01818"><polygon points="1075.0,677.8 1072.0,681.4 1075.0,685.0 1078.0,681.4"/></g>
<text x="1101.3" y="687.1999999999999" font-size="16.5" text-anchor="start" font-weight="bold" style='font-family:"Liberation Sans", sans-serif' fill="#000" textLength="73" lengthAdjust="spacingAndGlyphs">R=90 nm</text>
</svg>
</body></html>
